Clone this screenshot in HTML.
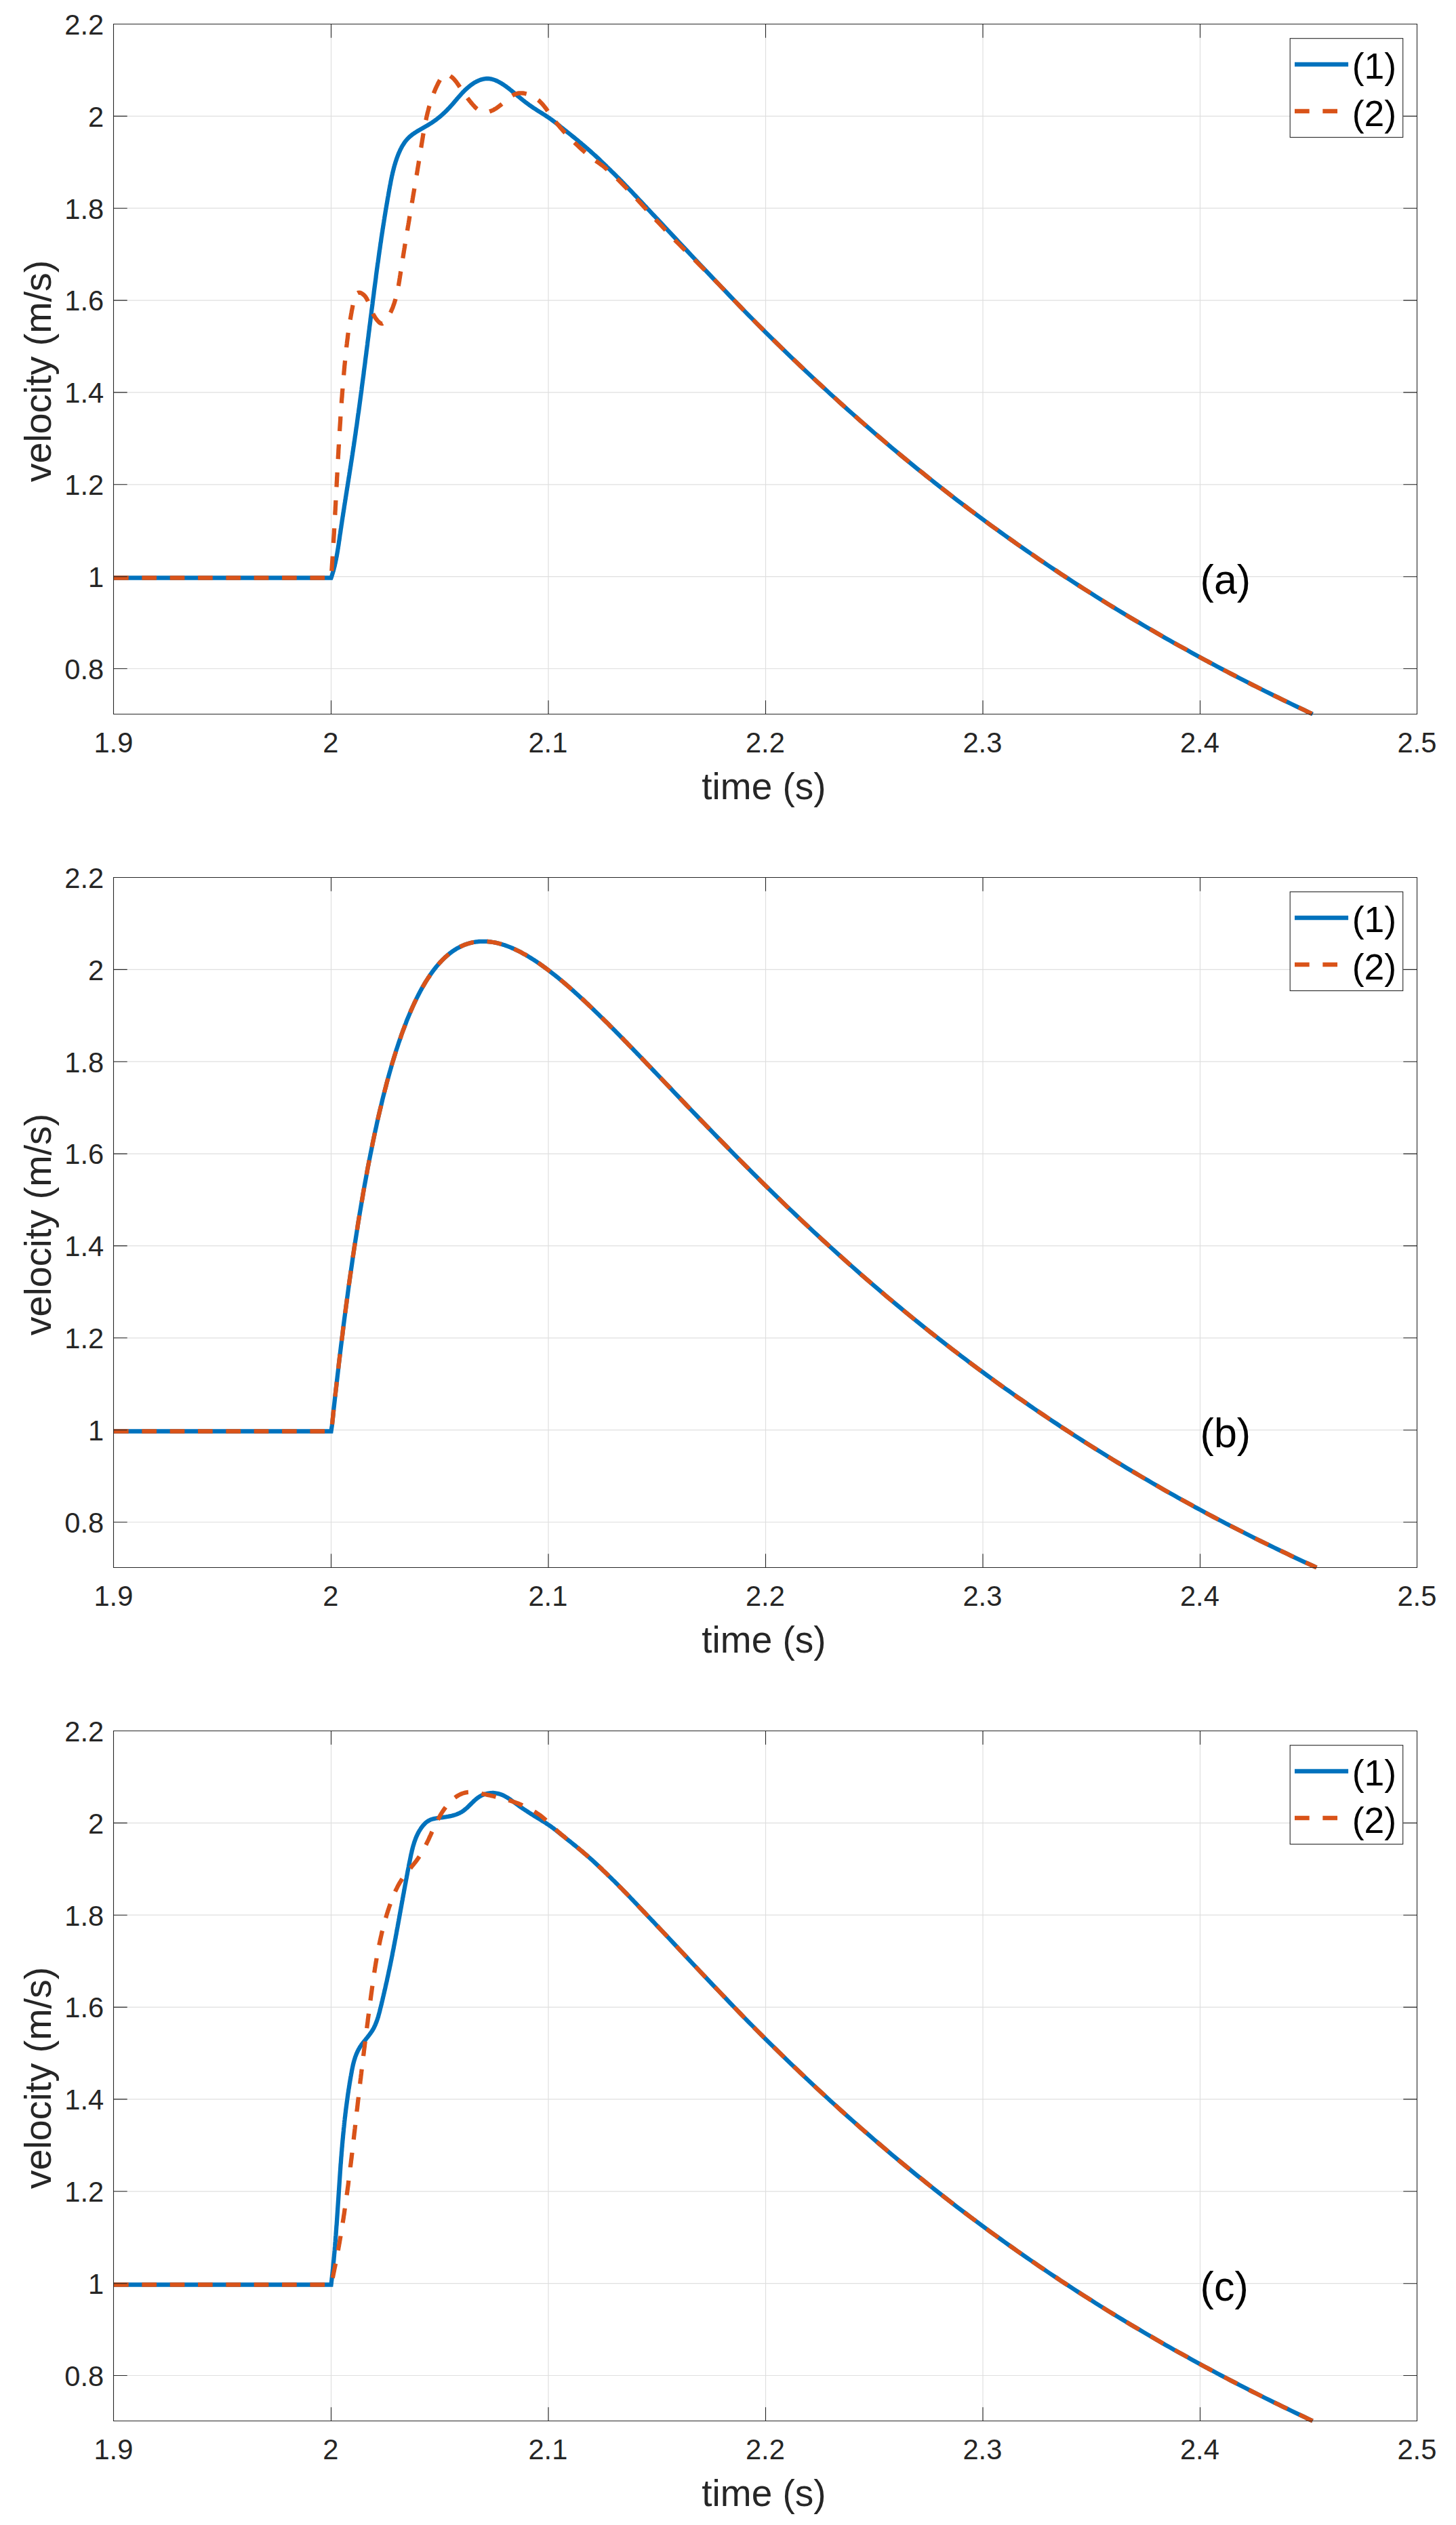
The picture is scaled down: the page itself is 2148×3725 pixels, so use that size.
<!DOCTYPE html>
<html><head><meta charset="utf-8"><title>velocity</title>
<style>html,body{margin:0;padding:0;background:#fff}svg{display:block}text{font-family:"Liberation Sans",sans-serif}</style>
</head><body>
<svg width="2148" height="3725" viewBox="0 0 2148 3725">
<rect width="2148" height="3725" fill="#fff"/>
<g>
<path d="M488.5 35.5V1053.5M809.0 35.5V1053.5M1129.5 35.5V1053.5M1450.0 35.5V1053.5M1770.5 35.5V1053.5M167.5 986.5H2090.5M167.5 850.7H2090.5M167.5 714.8H2090.5M167.5 578.9H2090.5M167.5 443.1H2090.5M167.5 307.2H2090.5M167.5 171.4H2090.5" stroke="#dfdfdf" stroke-width="1.2" fill="none"/>
<clipPath id="c0"><rect x="166.5" y="34.5" width="1925.0" height="1023.0"/></clipPath>
<g clip-path="url(#c0)" fill="none" stroke-width="6.3" stroke-linejoin="miter">
<path d="M168.0 852.5L488.5 852.5 489.0 851.1 489.5 849.7 489.9 848.2 490.4 846.8 490.8 845.4 491.2 843.9 491.7 842.5 492.1 841.0 492.5 839.6 492.8 838.1 493.2 836.7 493.6 835.2 493.9 833.8 494.2 832.3 494.6 830.8 494.9 829.4 495.2 827.9 495.5 826.4 495.8 825.0 496.1 823.5 496.4 822.0 496.7 820.6 496.9 819.1 497.2 817.6 497.5 816.1 497.7 814.6 498.0 813.2 498.2 811.7 498.4 810.2 498.7 808.7 498.9 807.2 499.1 805.8 499.4 804.3 499.6 802.8 499.8 801.3 500.0 799.8 500.2 798.3 500.5 796.9 500.7 795.4 500.9 793.9 501.1 792.4 501.3 790.9 501.5 789.4 501.7 788.0 502.0 786.5 502.2 785.0 502.4 783.5 502.6 782.0 502.8 780.5 503.1 779.0 503.3 777.6 503.5 776.1 503.7 774.6 504.0 773.1 504.2 771.6 504.4 770.1 504.6 768.7 504.8 767.2 505.1 765.7 505.3 764.2 505.5 762.7 505.8 761.2 506.0 759.8 506.2 758.3 506.4 756.8 506.7 755.3 506.9 753.8 507.1 752.4 507.4 750.9 507.6 749.4 507.8 747.9 508.0 746.4 508.3 744.9 508.5 743.5 508.7 742.0 509.0 740.5 509.2 739.0 509.4 737.5 509.7 736.1 509.9 734.6 510.1 733.1 510.4 731.6 510.6 730.1 510.8 728.6 511.1 727.2 511.3 725.7 511.5 724.2 511.8 722.7 512.0 721.2 512.2 719.8 512.5 718.3 512.7 716.8 512.9 715.3 513.2 713.8 513.4 712.3 513.6 710.9 513.9 709.4 514.1 707.9 514.3 706.4 514.6 704.9 514.8 703.5 515.0 702.0 515.3 700.5 515.5 699.0 515.7 697.5 516.0 696.0 516.2 694.6 516.4 693.1 516.7 691.6 516.9 690.1 517.1 688.6 517.4 687.2 517.6 685.7 517.8 684.2 518.0 682.7 518.3 681.2 518.5 679.7 518.7 678.3 519.0 676.8 519.2 675.3 519.4 673.8 519.6 672.3 519.9 670.8 520.1 669.4 520.3 667.9 520.5 666.4 520.8 664.9 521.0 663.4 521.2 661.9 521.4 660.5 521.6 659.0 521.9 657.5 522.1 656.0 522.3 654.5 522.5 653.0 522.7 651.6 523.0 650.1 523.2 648.6 523.4 647.1 523.6 645.6 523.8 644.1 524.0 642.7 524.3 641.2 524.5 639.7 524.7 638.2 524.9 636.7 525.1 635.2 525.3 633.7 525.5 632.3 525.7 630.8 526.0 629.3 526.2 627.8 526.4 626.3 526.6 624.8 526.8 623.3 527.0 621.9 527.2 620.4 527.4 618.9 527.6 617.4 527.8 615.9 528.0 614.4 528.2 612.9 528.4 611.5 528.6 610.0 528.9 608.5 529.1 607.0 529.3 605.5 529.5 604.0 529.7 602.5 529.9 601.1 530.1 599.6 530.3 598.1 530.5 596.6 530.7 595.1 530.9 593.6 531.1 592.1 531.3 590.7 531.5 589.2 531.7 587.7 531.9 586.2 532.1 584.7 532.3 583.2 532.5 581.7 532.7 580.2 532.9 578.8 533.1 577.3 533.3 575.8 533.5 574.3 533.6 572.8 533.8 571.3 534.0 569.8 534.2 568.3 534.4 566.9 534.6 565.4 534.8 563.9 535.0 562.4 535.2 560.9 535.4 559.4 535.6 557.9 535.8 556.4 536.0 555.0 536.2 553.5 536.4 552.0 536.6 550.5 536.7 549.0 536.9 547.5 537.1 546.0 537.3 544.5 537.5 543.1 537.7 541.6 537.9 540.1 538.1 538.6 538.3 537.1 538.5 535.6 538.7 534.1 538.8 532.6 539.0 531.2 539.2 529.7 539.4 528.2 539.6 526.7 539.8 525.2 540.0 523.7 540.2 522.2 540.4 520.7 540.5 519.3 540.7 517.8 540.9 516.3 541.1 514.8 541.3 513.3 541.5 511.8 541.7 510.3 541.9 508.8 542.1 507.3 542.2 505.9 542.4 504.4 542.6 502.9 542.8 501.4 543.0 499.9 543.2 498.4 543.4 496.9 543.6 495.4 543.7 494.0 543.9 492.5 544.1 491.0 544.3 489.5 544.5 488.0 544.7 486.5 544.9 485.0 545.0 483.5 545.2 482.0 545.4 480.6 545.6 479.1 545.8 477.6 546.0 476.1 546.2 474.6 546.4 473.1 546.5 471.6 546.7 470.1 546.9 468.7 547.1 467.2 547.3 465.7 547.5 464.2 547.7 462.7 547.9 461.2 548.0 459.7 548.2 458.2 548.4 456.7 548.6 455.3 548.8 453.8 549.0 452.3 549.2 450.8 549.4 449.3 549.6 447.8 549.7 446.3 549.9 444.8 550.1 443.4 550.3 441.9 550.5 440.4 550.7 438.9 550.9 437.4 551.1 435.9 551.3 434.4 551.5 432.9 551.6 431.5 551.8 430.0 552.0 428.5 552.2 427.0 552.4 425.5 552.6 424.0 552.8 422.5 553.0 421.0 553.2 419.6 553.4 418.1 553.6 416.6 553.8 415.1 554.0 413.6 554.2 412.1 554.4 410.6 554.6 409.1 554.7 407.7 554.9 406.2 555.1 404.7 555.3 403.2 555.5 401.7 555.7 400.2 555.9 398.7 556.1 397.2 556.3 395.8 556.5 394.3 556.7 392.8 556.9 391.3 557.1 389.8 557.3 388.3 557.6 386.8 557.8 385.4 558.0 383.9 558.2 382.4 558.4 380.9 558.6 379.4 558.8 377.9 559.0 376.4 559.2 375.0 559.4 373.5 559.6 372.0 559.8 370.5 560.0 369.0 560.3 367.5 560.5 366.0 560.7 364.6 560.9 363.1 561.1 361.6 561.3 360.1 561.5 358.6 561.8 357.1 562.0 355.7 562.2 354.2 562.4 352.7 562.6 351.2 562.8 349.7 563.1 348.2 563.3 346.7 563.5 345.3 563.7 343.8 564.0 342.3 564.2 340.8 564.4 339.3 564.6 337.9 564.9 336.4 565.1 334.9 565.3 333.4 565.6 331.9 565.8 330.4 566.0 329.0 566.3 327.5 566.5 326.0 566.7 324.5 567.0 323.0 567.2 321.6 567.4 320.1 567.7 318.6 567.9 317.1 568.2 315.6 568.4 314.1 568.6 312.7 568.9 311.2 569.1 309.7 569.4 308.2 569.6 306.7 569.9 305.3 570.1 303.8 570.4 302.3 570.6 300.8 570.9 299.4 571.1 297.9 571.4 296.4 571.6 294.9 571.9 293.4 572.1 292.0 572.4 290.5 572.7 289.0 572.9 287.5 573.2 286.1 573.4 284.6 573.7 283.1 574.0 281.6 574.2 280.1 574.5 278.7 574.8 277.2 575.0 275.7 575.3 274.2 575.6 272.8 575.9 271.3 576.2 269.8 576.4 268.3 576.7 266.9 577.0 265.4 577.3 263.9 577.6 262.5 577.9 261.0 578.2 259.5 578.6 258.1 578.9 256.6 579.2 255.1 579.6 253.7 579.9 252.2 580.3 250.8 580.7 249.3 581.0 247.9 581.4 246.4 581.8 245.0 582.2 243.5 582.7 242.1 583.1 240.6 583.5 239.2 584.0 237.8 584.5 236.4 584.9 234.9 585.4 233.5 585.9 232.1 586.5 230.7 587.0 229.3 587.5 227.9 588.1 226.5 588.7 225.1 589.3 223.8 589.9 222.4 590.5 221.0 591.2 219.7 591.9 218.4 592.6 217.0 593.3 215.7 594.1 214.4 594.9 213.2 595.7 211.9 596.5 210.7 597.4 209.4 598.3 208.2 599.3 207.1 600.2 205.9 601.2 204.8 602.3 203.7 603.4 202.7 604.5 201.7 605.6 200.7 606.8 199.8 607.9 198.8 609.1 197.9 610.4 197.1 611.6 196.2 612.9 195.4 614.1 194.6 615.4 193.8 616.7 193.0 618.0 192.2 619.3 191.5 620.6 190.7 621.9 190.0 623.2 189.3 624.5 188.5 625.8 187.8 627.1 187.0 628.4 186.3 629.7 185.6 631.0 184.8 632.3 184.0 633.6 183.2 634.8 182.4 636.1 181.6 637.3 180.8 638.6 180.0 639.8 179.1 641.0 178.3 642.2 177.4 643.5 176.5 644.6 175.6 645.8 174.6 647.0 173.7 648.2 172.8 649.3 171.8 650.5 170.8 651.6 169.8 652.7 168.9 653.8 167.8 654.9 166.8 656.0 165.8 657.1 164.8 658.2 163.7 659.2 162.7 660.3 161.6 661.3 160.5 662.4 159.4 663.4 158.3 664.4 157.2 665.4 156.1 666.4 155.0 667.4 153.9 668.4 152.7 669.4 151.6 670.3 150.5 671.3 149.3 672.3 148.2 673.3 147.0 674.2 145.9 675.2 144.8 676.2 143.6 677.2 142.5 678.2 141.4 679.2 140.2 680.2 139.1 681.2 138.0 682.2 136.9 683.2 135.8 684.3 134.8 685.3 133.7 686.4 132.6 687.5 131.6 688.6 130.6 689.7 129.6 690.9 128.6 692.0 127.7 693.2 126.7 694.4 125.8 695.6 124.9 696.8 124.1 698.1 123.2 699.3 122.4 700.6 121.6 701.9 120.9 703.2 120.2 704.6 119.6 706.0 118.9 707.3 118.4 708.8 117.8 710.2 117.4 711.6 117.0 713.1 116.6 714.6 116.4 716.0 116.2 717.5 116.0 719.0 116.0 720.5 116.0 722.0 116.2 723.5 116.4 725.0 116.7 726.4 117.0 727.9 117.4 729.3 117.9 730.7 118.4 732.1 119.0 733.5 119.6 734.8 120.3 736.2 121.0 737.5 121.7 738.8 122.4 740.1 123.2 741.3 124.0 742.6 124.8 743.8 125.7 745.0 126.5 746.3 127.4 747.5 128.3 748.7 129.2 749.9 130.1 751.1 131.0 752.2 131.9 753.4 132.9 754.6 133.8 755.7 134.8 756.9 135.7 758.1 136.7 759.2 137.6 760.4 138.6 761.5 139.6 762.7 140.5 763.8 141.5 765.0 142.4 766.1 143.4 767.3 144.4 768.4 145.3 769.6 146.3 770.8 147.2 771.9 148.1 773.1 149.1 774.3 150.0 775.5 150.9 776.7 151.8 777.9 152.7 779.1 153.6 780.3 154.5 781.5 155.4 782.7 156.2 784.0 157.1 785.2 157.9 786.5 158.8 787.7 159.6 789.0 160.4 790.2 161.2 791.5 162.0 792.7 162.9 793.0 163.0 794.3 163.8 795.5 164.6 796.8 165.4 798.1 166.2 799.4 167.0 800.7 167.8 801.9 168.6 803.2 169.4 804.5 170.3 805.8 171.1 807.1 172.0 808.4 172.8 809.6 173.7 810.9 174.6 812.2 175.5 813.5 176.4 814.8 177.4 816.1 178.3 817.3 179.3 818.6 180.3 819.9 181.3 821.2 182.3 822.5 183.3 823.7 184.3 825.0 185.3 826.3 186.4 827.6 187.4 828.9 188.4 830.2 189.4 831.4 190.5 833.0 191.7 834.6 193.0 836.2 194.3 837.8 195.6 839.4 196.8 841.1 198.1 842.7 199.4 844.3 200.7 845.9 202.0 847.5 203.3 849.1 204.6 850.7 205.9 852.3 207.2 853.9 208.6 855.5 209.9 857.1 211.2 858.7 212.6 860.3 213.9 861.9 215.3 863.5 216.6 865.1 218.0 866.7 219.4 868.3 220.8 869.9 222.2 871.5 223.6 873.1 225.1 874.7 226.5 876.3 228.0 877.9 229.4 879.5 230.9 881.1 232.4 882.7 233.9 884.3 235.4 885.9 236.9 887.5 238.5 889.1 240.0 890.7 241.5 892.3 243.1 893.9 244.6 895.5 246.2 897.1 247.7 898.7 249.3 900.3 250.8 901.9 252.4 903.5 254.0 905.2 255.6 906.8 257.2 908.4 258.8 910.0 260.4 911.6 262.0 913.2 263.6 914.8 265.2 916.4 266.8 918.0 268.5 919.6 270.1 921.2 271.7 922.8 273.4 924.4 275.1 926.0 276.7 927.6 278.4 929.2 280.1 930.8 281.7 932.4 283.4 934.0 285.1 935.6 286.8 937.2 288.5 938.8 290.2 940.4 291.9 942.0 293.6 943.6 295.3 945.2 297.0 946.8 298.7 948.4 300.4 950.0 302.1 951.6 303.8 953.2 305.5 954.8 307.3 956.4 309.0 958.0 310.7 959.6 312.4 961.2 314.1 962.8 315.8 964.4 317.5 966.0 319.2 967.6 320.9 969.2 322.6 969.3 322.6 975.7 329.5 982.1 336.3 988.5 343.2 994.9 350.0 1001.3 356.9 1007.7 363.7 1014.1 370.5 1020.5 377.3 1026.9 384.1 1033.3 390.9 1039.8 397.7 1046.2 404.5 1052.6 411.2 1059.0 417.9 1065.4 424.6 1071.8 431.3 1078.2 438.0 1084.6 444.6 1091.0 451.3 1097.4 457.9 1103.9 464.4 1110.3 470.9 1116.7 477.4 1123.1 483.8 1129.5 490.2 1135.9 496.5 1142.3 502.8 1148.7 509.1 1155.1 515.3 1161.5 521.5 1168.0 527.7 1174.4 533.8 1180.8 539.9 1187.2 546.0 1193.6 552.0 1200.0 558.0 1206.4 564.0 1212.8 569.9 1219.2 575.8 1225.6 581.7 1232.1 587.5 1238.5 593.3 1244.9 599.1 1251.3 604.8 1257.7 610.5 1264.1 616.2 1270.5 621.8 1276.9 627.4 1283.3 632.9 1289.7 638.5 1296.2 644.0 1302.6 649.4 1309.0 654.9 1315.4 660.3 1321.8 665.6 1328.2 671.0 1334.6 676.3 1341.0 681.5 1347.4 686.8 1353.8 692.0 1360.3 697.1 1366.7 702.3 1373.1 707.4 1379.5 712.5 1385.9 717.5 1392.3 722.5 1398.7 727.5 1405.1 732.4 1411.5 737.4 1417.9 742.3 1424.4 747.1 1430.8 751.9 1437.2 756.7 1443.6 761.5 1450.0 766.3 1456.4 771.0 1462.8 775.7 1469.2 780.3 1475.6 784.9 1482.0 789.5 1488.5 794.1 1494.9 798.6 1501.3 803.2 1507.7 807.6 1514.1 812.1 1520.5 816.5 1526.9 820.9 1533.3 825.3 1539.7 829.7 1546.1 834.0 1552.6 838.3 1559.0 842.5 1565.4 846.8 1571.8 851.0 1578.2 855.2 1584.6 859.3 1591.0 863.5 1597.4 867.6 1603.8 871.7 1610.2 875.7 1616.7 879.8 1623.1 883.8 1629.5 887.8 1635.9 891.8 1642.3 895.7 1648.7 899.6 1655.1 903.5 1661.5 907.4 1667.9 911.2 1674.3 915.0 1680.8 918.8 1687.2 922.6 1693.6 926.4 1700.0 930.1 1706.4 933.8 1712.8 937.5 1719.2 941.2 1725.6 944.8 1732.0 948.4 1738.4 952.0 1744.9 955.6 1751.3 959.1 1757.7 962.7 1764.1 966.2 1770.5 969.7 1776.9 973.2 1783.3 976.6 1789.7 980.1 1796.1 983.5 1802.5 986.9 1809.0 990.2 1815.4 993.6 1821.8 996.9 1828.2 1000.2 1834.6 1003.5 1841.0 1006.8 1847.4 1010.1 1853.8 1013.3 1860.2 1016.5 1866.6 1019.7 1873.1 1022.9 1879.5 1026.1 1885.9 1029.2 1892.3 1032.3 1898.7 1035.4 1905.1 1038.5 1911.5 1041.6 1917.9 1044.7 1924.3 1047.7 1930.7 1050.8 1936.6 1053.5" stroke="#0072bd"/>
<path d="M168.0 852.5L488.5 852.5 488.6 851.0 488.7 849.5 488.8 848.0 488.9 846.5 489.0 845.0 489.1 843.5 489.3 842.0 489.4 840.5 489.5 839.0 489.6 837.5 489.7 836.0 489.8 834.5 489.9 833.0 490.0 831.5 490.1 830.0 490.2 828.6 490.3 827.1 490.4 825.6 490.5 824.1 490.6 822.6 490.7 821.1 490.8 819.6 490.9 818.1 491.0 816.6 491.1 815.1 491.1 813.6 491.2 812.1 491.3 810.6 491.4 809.1 491.5 807.6 491.6 806.1 491.7 804.6 491.8 803.1 491.9 801.6 492.0 800.1 492.1 798.6 492.2 797.1 492.2 795.6 492.3 794.1 492.4 792.6 492.5 791.1 492.6 789.6 492.7 788.1 492.8 786.6 492.9 785.1 492.9 783.6 493.0 782.1 493.1 780.6 493.2 779.1 493.3 777.6 493.4 776.2 493.5 774.7 493.5 773.2 493.6 771.7 493.7 770.2 493.8 768.7 493.9 767.2 494.0 765.7 494.0 764.2 494.1 762.7 494.2 761.2 494.3 759.7 494.4 758.2 494.4 756.7 494.5 755.2 494.6 753.7 494.7 752.2 494.8 750.7 494.8 749.2 494.9 747.7 495.0 746.2 495.1 744.7 495.2 743.2 495.2 741.7 495.3 740.2 495.4 738.7 495.5 737.2 495.6 735.7 495.6 734.2 495.7 732.7 495.8 731.2 495.9 729.7 496.0 728.2 496.0 726.7 496.1 725.2 496.2 723.7 496.3 722.2 496.4 720.7 496.4 719.2 496.5 717.7 496.6 716.2 496.7 714.7 496.7 713.2 496.8 711.7 496.9 710.2 497.0 708.7 497.1 707.2 497.1 705.8 497.2 704.3 497.3 702.8 497.4 701.3 497.5 699.8 497.5 698.3 497.6 696.8 497.7 695.3 497.8 693.8 497.9 692.3 497.9 690.8 498.0 689.3 498.1 687.8 498.2 686.3 498.3 684.8 498.3 683.3 498.4 681.8 498.5 680.3 498.6 678.8 498.7 677.3 498.8 675.8 498.8 674.3 498.9 672.8 499.0 671.3 499.1 669.8 499.2 668.3 499.3 666.8 499.3 665.3 499.4 663.8 499.5 662.3 499.6 660.8 499.7 659.3 499.8 657.8 499.9 656.3 499.9 654.8 500.0 653.3 500.1 651.8 500.2 650.3 500.3 648.8 500.4 647.3 500.5 645.8 500.6 644.3 500.7 642.8 500.7 641.4 500.8 639.9 500.9 638.4 501.0 636.9 501.1 635.4 501.2 633.9 501.3 632.4 501.4 630.9 501.5 629.4 501.6 627.9 501.7 626.4 501.8 624.9 501.9 623.4 502.0 621.9 502.1 620.4 502.2 618.9 502.2 617.4 502.3 615.9 502.4 614.4 502.5 612.9 502.6 611.4 502.7 609.9 502.9 608.4 503.0 606.9 503.1 605.4 503.2 603.9 503.3 602.4 503.4 600.9 503.5 599.4 503.6 597.9 503.7 596.4 503.8 595.0 503.9 593.5 504.0 592.0 504.1 590.5 504.2 589.0 504.3 587.5 504.5 586.0 504.6 584.5 504.7 583.0 504.8 581.5 504.9 580.0 505.0 578.5 505.1 577.0 505.3 575.5 505.4 574.0 505.5 572.5 505.6 571.0 505.7 569.5 505.9 568.0 506.0 566.5 506.1 565.0 506.2 563.5 506.4 562.1 506.5 560.6 506.6 559.1 506.7 557.6 506.9 556.1 507.0 554.6 507.1 553.1 507.3 551.6 507.4 550.1 507.5 548.6 507.7 547.1 507.8 545.6 507.9 544.1 508.1 542.6 508.2 541.1 508.3 539.6 508.5 538.1 508.6 536.7 508.8 535.2 508.9 533.7 509.1 532.2 509.2 530.7 509.4 529.2 509.5 527.7 509.7 526.2 509.8 524.7 510.0 523.2 510.1 521.7 510.3 520.2 510.4 518.7 510.6 517.3 510.7 515.8 510.9 514.3 511.1 512.8 511.2 511.3 511.4 509.8 511.6 508.3 511.8 506.8 511.9 505.3 512.1 503.8 512.3 502.3 512.5 500.9 512.7 499.4 512.9 497.9 513.0 496.4 513.2 494.9 513.4 493.4 513.6 491.9 513.8 490.4 514.0 489.0 514.3 487.5 514.5 486.0 514.7 484.5 514.9 483.0 515.1 481.5 515.3 480.1 515.6 478.6 515.8 477.1 516.0 475.6 516.3 474.1 516.5 472.7 516.8 471.2 517.0 469.7 517.3 468.2 517.5 466.7 517.8 465.3 518.0 463.8 518.3 462.3 518.6 460.8 518.8 459.4 519.1 457.9 519.4 456.4 519.7 454.9 520.0 453.5 520.2 452.0 520.5 450.5 520.8 449.0 521.1 447.6 521.4 446.1 521.8 444.6 522.1 443.2 522.5 441.7 522.9 440.3 523.3 438.9 523.8 437.4 524.4 436.1 525.2 434.7 526.0 433.5 527.1 432.5 528.4 431.8 529.9 431.6 531.4 431.9 532.8 432.4 534.1 433.1 535.3 434.0 536.5 435.0 537.6 436.0 538.6 437.1 539.5 438.3 540.3 439.6 541.1 440.8 541.8 442.2 542.5 443.5 543.1 444.9 543.7 446.3 544.2 447.7 544.7 449.1 545.3 450.5 545.8 451.9 546.3 453.3 546.8 454.7 547.4 456.1 547.9 457.5 548.5 458.9 549.1 460.2 549.7 461.6 550.4 463.0 551.0 464.3 551.8 465.6 552.5 466.9 553.3 468.2 554.1 469.4 555.0 470.6 555.9 471.8 556.9 473.0 557.9 474.1 559.0 475.1 560.1 476.1 561.4 476.9 562.8 477.4 564.3 477.3 565.6 476.6 566.8 475.7 567.8 474.6 568.7 473.4 569.6 472.2 570.4 471.0 571.3 469.7 572.1 468.4 572.8 467.1 573.6 465.9 574.3 464.5 575.0 463.2 575.7 461.9 576.4 460.5 577.0 459.2 577.6 457.8 578.2 456.4 578.8 455.0 579.4 453.7 579.9 452.3 580.4 450.8 580.9 449.4 581.4 448.0 581.9 446.6 582.3 445.2 582.7 443.7 583.2 442.3 583.6 440.8 584.0 439.4 584.3 437.9 584.7 436.5 585.1 435.0 585.4 433.6 585.7 432.1 586.1 430.6 586.4 429.2 586.7 427.7 587.0 426.2 587.2 424.8 587.5 423.3 587.8 421.8 588.1 420.3 588.3 418.9 588.6 417.4 588.8 415.9 589.1 414.4 589.3 412.9 589.5 411.5 589.8 410.0 590.0 408.5 590.2 407.0 590.5 405.5 590.7 404.0 590.9 402.6 591.1 401.1 591.4 399.6 591.6 398.1 591.8 396.6 592.1 395.1 592.3 393.7 592.5 392.2 592.7 390.7 593.0 389.2 593.2 387.7 593.4 386.3 593.7 384.8 593.9 383.3 594.1 381.8 594.4 380.3 594.6 378.8 594.9 377.4 595.1 375.9 595.3 374.4 595.6 372.9 595.8 371.4 596.0 370.0 596.3 368.5 596.5 367.0 596.8 365.5 597.0 364.0 597.2 362.6 597.5 361.1 597.7 359.6 598.0 358.1 598.2 356.6 598.4 355.2 598.7 353.7 598.9 352.2 599.2 350.7 599.4 349.2 599.7 347.8 599.9 346.3 600.2 344.8 600.4 343.3 600.6 341.8 600.9 340.4 601.1 338.9 601.4 337.4 601.6 335.9 601.9 334.4 602.1 333.0 602.4 331.5 602.6 330.0 602.9 328.5 603.1 327.0 603.4 325.6 603.6 324.1 603.8 322.6 604.1 321.1 604.3 319.6 604.6 318.2 604.8 316.7 605.1 315.2 605.3 313.7 605.6 312.2 605.8 310.8 606.1 309.3 606.3 307.8 606.6 306.3 606.8 304.8 607.1 303.4 607.3 301.9 607.6 300.4 607.8 298.9 608.1 297.5 608.3 296.0 608.6 294.5 608.8 293.0 609.1 291.5 609.3 290.1 609.6 288.6 609.8 287.1 610.1 285.6 610.3 284.1 610.6 282.7 610.8 281.2 611.1 279.7 611.3 278.2 611.6 276.7 611.8 275.3 612.1 273.8 612.3 272.3 612.6 270.8 612.8 269.3 613.0 267.9 613.3 266.4 613.5 264.9 613.8 263.4 614.0 261.9 614.3 260.5 614.5 259.0 614.8 257.5 615.0 256.0 615.3 254.6 615.5 253.1 615.8 251.6 616.0 250.1 616.2 248.6 616.5 247.2 616.7 245.7 617.0 244.2 617.2 242.7 617.5 241.2 617.7 239.7 617.9 238.3 618.2 236.8 618.4 235.3 618.7 233.8 618.9 232.3 619.1 230.9 619.4 229.4 619.6 227.9 619.9 226.4 620.1 224.9 620.3 223.5 620.6 222.0 620.8 220.5 621.0 219.0 621.3 217.5 621.5 216.1 621.7 214.6 622.0 213.1 622.2 211.6 622.5 210.1 622.7 208.6 622.9 207.2 623.2 205.7 623.4 204.2 623.7 202.7 623.9 201.2 624.1 199.8 624.4 198.3 624.6 196.8 624.9 195.3 625.2 193.9 625.4 192.4 625.7 190.9 626.0 189.4 626.2 187.9 626.5 186.5 626.8 185.0 627.1 183.5 627.4 182.1 627.7 180.6 628.0 179.1 628.3 177.6 628.6 176.2 628.9 174.7 629.2 173.2 629.5 171.8 629.9 170.3 630.2 168.9 630.6 167.4 630.9 165.9 631.3 164.5 631.7 163.0 632.1 161.6 632.4 160.1 632.8 158.7 633.2 157.3 633.7 155.8 634.1 154.4 634.5 152.9 635.0 151.5 635.4 150.1 635.9 148.6 636.3 147.2 636.8 145.8 637.3 144.4 637.8 143.0 638.3 141.6 638.8 140.2 639.4 138.7 639.9 137.4 640.5 136.0 641.0 134.6 641.6 133.2 642.2 131.8 642.8 130.4 643.4 129.1 644.1 127.7 644.7 126.3 645.4 125.0 646.0 123.7 646.7 122.3 647.4 121.0 648.1 119.7 648.8 118.3 649.5 117.0 650.3 115.7 651.1 114.5 652.0 113.2 652.9 112.1 654.0 111.1 655.3 110.3 656.7 109.8 658.2 109.7 659.7 110.0 661.1 110.5 662.5 111.1 663.8 111.8 665.0 112.7 666.2 113.6 667.4 114.5 668.5 115.6 669.5 116.6 670.6 117.7 671.5 118.9 672.5 120.0 673.4 121.2 674.3 122.4 675.1 123.7 676.0 124.9 676.8 126.1 677.7 127.4 678.5 128.6 679.3 129.9 680.2 131.1 681.0 132.4 681.8 133.6 682.7 134.9 683.5 136.1 684.4 137.3 685.2 138.6 686.1 139.8 687.0 141.0 687.9 142.2 688.7 143.4 689.6 144.6 690.5 145.8 691.5 147.0 692.4 148.2 693.3 149.4 694.3 150.5 695.2 151.7 696.2 152.8 697.2 154.0 698.2 155.1 699.2 156.2 700.2 157.3 701.2 158.4 702.3 159.4 703.4 160.4 704.6 161.4 705.8 162.2 707.1 163.1 708.4 163.8 709.7 164.5 711.1 165.0 712.6 165.3 714.1 165.5 715.6 165.6 717.1 165.6 718.6 165.4 720.0 165.1 721.5 164.8 722.9 164.3 724.3 163.8 725.7 163.2 727.1 162.6 728.4 161.9 729.7 161.1 731.0 160.4 732.3 159.6 733.5 158.7 734.7 157.9 735.9 157.0 737.1 156.1 738.3 155.2 739.5 154.2 740.6 153.3 741.8 152.3 742.9 151.3 744.1 150.3 745.2 149.3 746.3 148.4 747.5 147.4 748.6 146.4 749.8 145.4 750.9 144.5 752.1 143.6 753.3 142.7 754.6 141.9 755.8 141.1 757.1 140.3 758.5 139.6 759.8 139.0 761.2 138.5 762.7 138.1 764.1 137.7 765.6 137.5 767.1 137.4 768.6 137.3 770.1 137.4 771.6 137.5 773.1 137.7 774.6 138.0 776.0 138.3 777.5 138.7 778.9 139.1 780.3 139.6 781.8 140.1 783.1 140.7 784.5 141.3 785.8 142.0 787.2 142.7 788.4 143.5 789.7 144.3 790.9 145.1 792.1 146.0 793.3 147.0 794.5 147.9 795.6 148.9 796.7 150.0 797.7 151.0 798.8 152.1 799.8 153.2 800.8 154.3 801.8 155.5 802.7 156.6 803.6 157.8 804.6 159.0 805.5 160.2 806.4 161.4 807.2 162.6 808.1 163.8 809.0 165.1 809.8 166.3 810.7 167.5 811.6 168.7 812.4 170.0 813.3 171.2 814.2 172.4 815.1 173.6 816.0 174.8 816.9 176.0 817.8 177.2 818.7 178.4 819.6 179.6 820.5 180.8 821.5 181.9 822.4 183.1 823.4 184.3 824.3 185.4 825.3 186.6 826.2 187.7 827.2 188.9 828.2 190.0 829.2 191.1 830.2 192.2 831.2 193.4 832.2 194.5 833.2 195.6 834.2 196.7 835.2 197.8 836.3 198.9 837.3 200.0 838.3 201.1 839.4 202.1 840.4 203.2 841.5 204.3 842.5 205.3 843.6 206.4 844.6 207.5 845.7 208.5 846.8 209.6 847.9 210.6 848.9 211.7 850.0 212.7 851.1 213.7 852.2 214.7 853.3 215.8 854.4 216.8 855.5 217.8 856.6 218.8 857.7 219.8 858.8 220.8 859.9 221.8 861.1 222.8 862.2 223.8 863.3 224.8 864.4 225.8 865.6 226.8 866.7 227.8 868.0 228.9 869.3 230.0 870.5 231.0 871.8 232.0 873.1 233.1 874.4 234.0 875.7 235.0 876.9 235.9 878.2 236.8 879.5 237.7 880.8 238.6 882.1 239.5 883.4 240.4 884.6 241.3 885.9 242.2 887.2 243.2 888.5 244.1 889.8 245.1 891.0 246.1 892.3 247.1 892.3 247.1 893.9 248.6 895.5 250.0 897.1 251.5 898.7 252.9 900.3 254.4 901.9 255.8 903.5 257.3 905.2 258.7 906.8 260.2 908.4 261.7 910.0 263.2 911.6 264.7 913.2 266.3 914.8 267.9 916.4 269.5 918.0 271.2 919.6 272.8 921.2 274.5 922.8 276.1 924.4 277.8 926.0 279.4 927.6 281.1 929.2 282.8 930.8 284.5 932.4 286.1 934.0 287.8 935.6 289.5 937.2 291.2 938.8 293.0 940.4 294.7 942.0 296.4 943.6 298.2 945.2 299.9 946.8 301.6 948.4 303.4 950.0 305.1 951.6 306.9 953.2 308.6 954.8 310.3 956.4 312.1 958.0 313.8 959.6 315.6 961.2 317.3 962.8 319.0 964.4 320.8 966.0 322.5 967.6 324.3 969.2 326.0 969.3 326.0 975.7 332.9 982.1 339.7 988.5 346.6 994.9 353.4 1001.3 359.9 1007.7 366.3 1014.1 372.7 1020.5 379.1 1026.9 385.5 1033.3 392.0 1039.8 398.5 1046.2 405.0 1052.6 411.5 1059.0 417.9 1065.4 424.6 1071.8 431.3 1078.2 438.0 1084.6 444.6 1091.0 451.3 1097.4 457.9 1103.9 464.4 1110.3 470.9 1116.7 477.4 1123.1 483.8 1129.5 490.2 1135.9 496.5 1142.3 502.8 1148.7 509.1 1155.1 515.3 1161.5 521.5 1168.0 527.7 1174.4 533.8 1180.8 539.9 1187.2 546.0 1193.6 552.0 1200.0 558.0 1206.4 564.0 1212.8 569.9 1219.2 575.8 1225.6 581.7 1232.1 587.5 1238.5 593.3 1244.9 599.1 1251.3 604.8 1257.7 610.5 1264.1 616.2 1270.5 621.8 1276.9 627.4 1283.3 632.9 1289.7 638.5 1296.2 644.0 1302.6 649.4 1309.0 654.9 1315.4 660.3 1321.8 665.6 1328.2 671.0 1334.6 676.3 1341.0 681.5 1347.4 686.8 1353.8 692.0 1360.3 697.1 1366.7 702.3 1373.1 707.4 1379.5 712.5 1385.9 717.5 1392.3 722.5 1398.7 727.5 1405.1 732.4 1411.5 737.4 1417.9 742.3 1424.4 747.1 1430.8 751.9 1437.2 756.7 1443.6 761.5 1450.0 766.3 1456.4 771.0 1462.8 775.7 1469.2 780.3 1475.6 784.9 1482.0 789.5 1488.5 794.1 1494.9 798.6 1501.3 803.2 1507.7 807.6 1514.1 812.1 1520.5 816.5 1526.9 820.9 1533.3 825.3 1539.7 829.7 1546.1 834.0 1552.6 838.3 1559.0 842.5 1565.4 846.8 1571.8 851.0 1578.2 855.2 1584.6 859.3 1591.0 863.5 1597.4 867.6 1603.8 871.7 1610.2 875.7 1616.7 879.8 1623.1 883.8 1629.5 887.8 1635.9 891.8 1642.3 895.7 1648.7 899.6 1655.1 903.5 1661.5 907.4 1667.9 911.2 1674.3 915.0 1680.8 918.8 1687.2 922.6 1693.6 926.4 1700.0 930.1 1706.4 933.8 1712.8 937.5 1719.2 941.2 1725.6 944.8 1732.0 948.4 1738.4 952.0 1744.9 955.6 1751.3 959.1 1757.7 962.7 1764.1 966.2 1770.5 969.7 1776.9 973.2 1783.3 976.6 1789.7 980.1 1796.1 983.5 1802.5 986.9 1809.0 990.2 1815.4 993.6 1821.8 996.9 1828.2 1000.2 1834.6 1003.5 1841.0 1006.8 1847.4 1010.1 1853.8 1013.3 1860.2 1016.5 1866.6 1019.7 1873.1 1022.9 1879.5 1026.1 1885.9 1029.2 1892.3 1032.3 1898.7 1035.4 1905.1 1038.5 1911.5 1041.6 1917.9 1044.7 1924.3 1047.7 1930.7 1050.8 1936.6 1053.5" stroke="#d95319" stroke-dasharray="21.7 19.64"/>
</g>
<path d="M167.5 35.5H2090.5V1053.5H167.5ZM488.5 1053.5v-20.2M488.5 35.5v20.2M809.0 1053.5v-20.2M809.0 35.5v20.2M1129.5 1053.5v-20.2M1129.5 35.5v20.2M1450.0 1053.5v-20.2M1450.0 35.5v20.2M1770.5 1053.5v-20.2M1770.5 35.5v20.2M167.5 986.5h20.2M2090.5 986.5h-20.2M167.5 850.7h20.2M2090.5 850.7h-20.2M167.5 714.8h20.2M2090.5 714.8h-20.2M167.5 578.9h20.2M2090.5 578.9h-20.2M167.5 443.1h20.2M2090.5 443.1h-20.2M167.5 307.2h20.2M2090.5 307.2h-20.2M167.5 171.4h20.2M2090.5 171.4h-20.2" stroke="#262626" stroke-width="1.1" fill="none"/>
<g font-size="41.7" fill="#262626">
<text x="167.4" y="1109.9" text-anchor="middle">1.9</text>
<text x="487.9" y="1109.9" text-anchor="middle">2</text>
<text x="808.4" y="1109.9" text-anchor="middle">2.1</text>
<text x="1128.9" y="1109.9" text-anchor="middle">2.2</text>
<text x="1449.4" y="1109.9" text-anchor="middle">2.3</text>
<text x="1769.9" y="1109.9" text-anchor="middle">2.4</text>
<text x="2090.4" y="1109.9" text-anchor="middle">2.5</text>
<text x="153.2" y="1001.8" text-anchor="end">0.8</text>
<text x="153.2" y="866.0" text-anchor="end">1</text>
<text x="153.2" y="730.1" text-anchor="end">1.2</text>
<text x="153.2" y="594.2" text-anchor="end">1.4</text>
<text x="153.2" y="458.4" text-anchor="end">1.6</text>
<text x="153.2" y="322.5" text-anchor="end">1.8</text>
<text x="153.2" y="186.7" text-anchor="end">2</text>
<text x="153.2" y="50.8" text-anchor="end">2.2</text>
</g>
<text x="1127.0" y="1179.1" font-size="55" fill="#262626" text-anchor="middle">time (s)</text>
<text transform="translate(74.8 547.5) rotate(-90)" font-size="55.6" fill="#262626" text-anchor="middle">velocity (m/s)</text>
<text x="1770.6" y="875.7" font-size="61" fill="#000">(a)</text>
<rect x="1903.2" y="56.7" width="166.5" height="145.9" fill="#fff" stroke="#262626" stroke-width="1.1"/>
<path d="M1910 95.0H1989.1" stroke="#0072bd" stroke-width="6.3"/>
<path d="M1910 164.0H1989.1" stroke="#d95319" stroke-width="6.3" stroke-dasharray="21.7 19.64"/>
<text x="1994.8" y="116.0" font-size="53.5" fill="#000">(1)</text>
<text x="1994.8" y="185.7" font-size="53.5" fill="#000">(2)</text>
</g>
<g>
<path d="M488.5 1294.5V2312.5M809.0 1294.5V2312.5M1129.5 1294.5V2312.5M1450.0 1294.5V2312.5M1770.5 1294.5V2312.5M167.5 2245.5H2090.5M167.5 2109.7H2090.5M167.5 1973.8H2090.5M167.5 1837.9H2090.5M167.5 1702.1H2090.5M167.5 1566.2H2090.5M167.5 1430.4H2090.5" stroke="#dfdfdf" stroke-width="1.2" fill="none"/>
<clipPath id="c1"><rect x="166.5" y="1293.5" width="1925.0" height="1023.0"/></clipPath>
<g clip-path="url(#c1)" fill="none" stroke-width="6.3" stroke-linejoin="miter">
<path d="M168.0 2111.5L488.5 2111.5 489.8 2102.9 491.1 2090.8 492.3 2079.0 493.6 2067.3 494.9 2055.7 496.2 2044.3 497.5 2033.1 498.8 2022.0 500.0 2011.1 501.3 2000.3 502.6 1989.7 503.9 1979.2 505.2 1968.8 506.4 1958.6 507.7 1948.5 509.0 1938.6 510.3 1928.8 511.6 1919.2 512.9 1909.6 514.1 1900.3 515.4 1891.0 516.7 1881.9 518.0 1872.9 519.3 1864.0 520.5 1855.2 521.8 1846.6 523.1 1838.1 524.4 1829.7 525.7 1821.5 527.0 1813.3 528.2 1805.3 529.5 1797.4 530.8 1789.6 532.1 1781.9 533.4 1774.3 534.7 1766.9 535.9 1759.5 537.2 1752.3 538.5 1745.1 539.8 1738.1 541.1 1731.2 542.3 1724.3 543.6 1717.6 544.9 1711.0 546.2 1704.4 547.5 1698.0 548.8 1691.7 550.0 1685.4 551.3 1679.3 552.6 1673.2 553.9 1667.3 555.2 1661.4 556.4 1655.6 557.7 1649.9 559.0 1644.3 560.3 1638.8 561.6 1633.4 562.9 1628.1 564.1 1622.8 565.4 1617.6 566.7 1612.5 568.0 1607.5 569.3 1602.6 570.5 1597.7 571.8 1593.0 573.1 1588.3 574.4 1583.6 575.7 1579.1 577.0 1574.6 578.2 1570.2 579.5 1565.9 580.8 1561.7 582.1 1557.5 583.4 1553.4 584.6 1549.3 585.9 1545.4 587.2 1541.5 588.5 1537.6 589.8 1533.9 591.1 1530.2 592.3 1526.5 593.6 1523.0 594.9 1519.4 596.2 1516.0 597.5 1512.6 598.8 1509.3 600.0 1506.0 601.3 1502.8 602.6 1499.7 603.9 1496.6 605.2 1493.6 606.4 1490.6 607.7 1487.7 609.0 1484.8 610.3 1482.0 611.6 1479.2 612.9 1476.5 614.1 1473.9 615.4 1471.3 616.7 1468.8 618.0 1466.3 619.3 1463.8 620.5 1461.4 621.8 1459.1 623.1 1456.8 624.4 1454.6 625.7 1452.4 627.0 1450.2 628.2 1448.1 629.5 1446.1 630.8 1444.1 632.1 1442.1 633.4 1440.2 634.6 1438.3 635.9 1436.5 637.2 1434.7 638.5 1432.9 639.8 1431.2 641.1 1429.5 642.3 1427.9 643.6 1426.3 644.9 1424.8 646.2 1423.3 647.5 1421.8 648.7 1420.4 650.0 1419.0 651.3 1417.6 652.6 1416.3 653.9 1415.0 655.2 1413.8 656.4 1412.6 657.7 1411.4 659.0 1410.3 660.3 1409.2 661.6 1408.1 662.9 1407.0 664.1 1406.0 665.4 1405.1 666.7 1404.1 668.0 1403.2 669.3 1402.3 670.5 1401.5 671.8 1400.7 673.1 1399.9 674.4 1399.1 675.7 1398.4 677.0 1397.7 678.2 1397.1 679.5 1396.4 680.8 1395.8 682.1 1395.2 683.4 1394.7 684.6 1394.1 685.9 1393.6 687.2 1393.2 688.5 1392.7 689.8 1392.3 691.1 1391.9 692.3 1391.5 693.6 1391.2 694.9 1390.9 696.2 1390.6 697.5 1390.3 698.7 1390.0 700.0 1389.8 701.3 1389.6 702.6 1389.4 703.9 1389.3 705.2 1389.1 706.4 1389.0 707.7 1388.9 709.0 1388.8 710.3 1388.8 711.6 1388.8 712.8 1388.8 714.1 1388.8 715.4 1388.8 716.7 1388.9 718.0 1388.9 719.3 1389.0 720.5 1389.1 721.8 1389.3 723.1 1389.4 724.4 1389.6 725.7 1389.8 727.0 1390.0 728.2 1390.2 729.5 1390.4 730.8 1390.7 732.1 1390.9 733.4 1391.2 734.6 1391.5 735.9 1391.8 737.2 1392.2 738.5 1392.5 739.8 1392.9 741.1 1393.3 742.3 1393.7 743.6 1394.1 744.9 1394.5 746.2 1395.0 747.5 1395.4 748.7 1395.9 750.0 1396.4 751.3 1396.9 752.6 1397.4 753.9 1397.9 755.2 1398.5 756.4 1399.0 757.7 1399.6 759.0 1400.2 760.3 1400.8 761.6 1401.4 762.8 1402.0 764.1 1402.6 765.4 1403.3 766.7 1403.9 768.0 1404.6 769.3 1405.3 770.5 1406.0 771.8 1406.7 773.1 1407.4 774.4 1408.1 775.7 1408.8 776.9 1409.6 778.2 1410.3 779.5 1411.1 780.8 1411.9 782.1 1412.7 783.4 1413.5 784.6 1414.3 785.9 1415.1 787.2 1415.9 788.5 1416.7 789.8 1417.6 791.1 1418.4 792.3 1419.3 793.6 1420.2 794.9 1421.0 796.2 1421.9 797.5 1422.8 798.7 1423.7 800.0 1424.6 801.3 1425.6 802.6 1426.5 803.9 1427.4 805.2 1428.4 806.4 1429.3 807.7 1430.3 809.0 1431.2 810.3 1432.2 811.6 1433.2 812.8 1434.2 814.1 1435.2 815.4 1436.2 816.7 1437.2 818.0 1438.2 819.3 1439.2 820.5 1440.3 821.8 1441.3 823.1 1442.3 824.4 1443.4 825.7 1444.4 826.9 1445.5 828.2 1446.6 829.5 1447.6 830.8 1448.7 832.1 1449.8 833.4 1450.9 834.6 1452.0 835.9 1453.1 837.2 1454.2 838.5 1455.3 839.8 1456.4 841.0 1457.5 842.3 1458.7 843.6 1459.8 844.9 1460.9 846.2 1462.1 847.5 1463.2 848.7 1464.4 850.0 1465.5 851.3 1466.7 852.6 1467.9 853.9 1469.0 855.2 1470.2 856.4 1471.4 857.7 1472.6 859.0 1473.7 860.3 1474.9 861.6 1476.1 862.8 1477.3 864.1 1478.5 865.4 1479.7 866.7 1480.9 868.0 1482.1 869.3 1483.4 870.5 1484.6 871.8 1485.8 873.1 1487.0 874.4 1488.2 875.7 1489.5 876.9 1490.7 878.2 1491.9 879.5 1493.2 880.8 1494.4 882.1 1495.7 883.4 1496.9 884.6 1498.2 885.9 1499.4 887.2 1500.7 888.5 1501.9 889.8 1503.2 891.0 1504.5 892.3 1505.7 893.6 1507.0 894.9 1508.3 896.2 1509.6 897.5 1510.8 898.7 1512.1 900.0 1513.4 901.3 1514.7 902.6 1516.0 903.9 1517.2 905.1 1518.5 906.4 1519.8 907.7 1521.1 909.0 1522.4 910.3 1523.7 911.6 1525.0 912.8 1526.3 914.1 1527.6 915.4 1528.9 916.7 1530.2 918.0 1531.5 919.3 1532.8 920.5 1534.1 921.8 1535.5 923.1 1536.8 924.4 1538.1 925.7 1539.4 926.9 1540.7 928.2 1542.0 929.5 1543.4 930.8 1544.7 932.1 1546.0 933.4 1547.3 934.6 1548.6 935.9 1550.0 937.2 1551.3 938.5 1552.6 939.8 1554.0 941.0 1555.3 942.3 1556.6 943.6 1557.9 944.9 1559.3 946.2 1560.6 947.5 1561.9 948.7 1563.3 950.0 1564.6 951.3 1565.9 952.6 1567.3 953.9 1568.6 955.1 1570.0 956.4 1571.3 957.7 1572.6 959.0 1574.0 960.3 1575.3 961.6 1576.6 962.8 1578.0 964.1 1579.3 965.4 1580.7 966.7 1582.0 968.0 1583.3 969.2 1584.7 975.7 1591.4 982.1 1598.1 988.5 1604.8 994.9 1611.6 1001.3 1618.3 1007.7 1625.0 1014.1 1631.7 1020.5 1638.4 1026.9 1645.0 1033.3 1651.7 1039.8 1658.4 1046.2 1665.0 1052.6 1671.6 1059.0 1678.2 1065.4 1684.8 1071.8 1691.3 1078.2 1697.9 1084.6 1704.4 1091.0 1710.9 1097.4 1717.3 1103.9 1723.8 1110.3 1730.2 1116.7 1736.5 1123.1 1742.9 1129.5 1749.2 1135.9 1755.5 1142.3 1761.8 1148.7 1768.0 1155.1 1774.2 1161.5 1780.4 1168.0 1786.5 1174.4 1792.6 1180.8 1798.7 1187.2 1804.7 1193.6 1810.7 1200.0 1816.7 1206.4 1822.6 1212.8 1828.6 1219.2 1834.4 1225.6 1840.3 1232.1 1846.1 1238.5 1851.9 1244.9 1857.6 1251.3 1863.3 1257.7 1869.0 1264.1 1874.7 1270.5 1880.3 1276.9 1885.9 1283.3 1891.4 1289.7 1896.9 1296.2 1902.4 1302.6 1907.9 1309.0 1913.3 1315.4 1918.7 1321.8 1924.0 1328.2 1929.3 1334.6 1934.6 1341.0 1939.9 1347.4 1945.1 1353.8 1950.3 1360.3 1955.5 1366.7 1960.6 1373.1 1965.7 1379.5 1970.7 1385.9 1975.8 1392.3 1980.8 1398.7 1985.8 1405.1 1990.7 1411.5 1995.6 1417.9 2000.5 1424.4 2005.3 1430.8 2010.2 1437.2 2015.0 1443.6 2019.7 1450.0 2024.4 1456.4 2029.1 1462.8 2033.8 1469.2 2038.5 1475.6 2043.1 1482.0 2047.7 1488.5 2052.2 1494.9 2056.8 1501.3 2061.3 1507.7 2065.7 1514.1 2070.2 1520.5 2074.6 1526.9 2079.0 1533.3 2083.3 1539.7 2087.7 1546.1 2092.0 1552.6 2096.3 1559.0 2100.5 1565.4 2104.8 1571.8 2109.0 1578.2 2113.2 1584.6 2117.3 1591.0 2121.4 1597.4 2125.5 1603.8 2129.6 1610.2 2133.7 1616.7 2137.7 1623.1 2141.7 1629.5 2145.7 1635.9 2149.6 1642.3 2153.6 1648.7 2157.5 1655.1 2161.3 1661.5 2165.2 1667.9 2169.0 1674.3 2172.8 1680.8 2176.6 1687.2 2180.4 1693.6 2184.1 1700.0 2187.9 1706.4 2191.6 1712.8 2195.2 1719.2 2198.9 1725.6 2202.5 1732.0 2206.1 1738.4 2209.7 1744.9 2213.3 1751.3 2216.8 1757.7 2220.3 1764.1 2223.9 1770.5 2227.3 1776.9 2230.8 1783.3 2234.2 1789.7 2237.6 1796.1 2241.0 1802.5 2244.3 1809.0 2247.7 1815.4 2251.0 1821.8 2254.3 1828.2 2257.5 1834.6 2260.8 1841.0 2264.0 1847.4 2267.3 1853.8 2270.5 1860.2 2273.6 1866.6 2276.8 1873.1 2279.9 1879.5 2283.0 1885.9 2286.1 1892.3 2289.2 1898.7 2292.2 1905.1 2295.3 1911.5 2298.3 1917.9 2301.3 1924.3 2304.3 1930.7 2307.2 1937.2 2310.2 1942.3 2312.5" stroke="#0072bd"/>
<path d="M168.0 2111.5L488.5 2111.5 489.8 2102.9 491.1 2090.8 492.3 2079.0 493.6 2067.3 494.9 2055.7 496.2 2044.3 497.5 2033.1 498.8 2022.0 500.0 2011.1 501.3 2000.3 502.6 1989.7 503.9 1979.2 505.2 1968.8 506.4 1958.6 507.7 1948.5 509.0 1938.6 510.3 1928.8 511.6 1919.2 512.9 1909.6 514.1 1900.3 515.4 1891.0 516.7 1881.9 518.0 1872.9 519.3 1864.0 520.5 1855.2 521.8 1846.6 523.1 1838.1 524.4 1829.7 525.7 1821.5 527.0 1813.3 528.2 1805.3 529.5 1797.4 530.8 1789.6 532.1 1781.9 533.4 1774.3 534.7 1766.9 535.9 1759.5 537.2 1752.3 538.5 1745.1 539.8 1738.1 541.1 1731.2 542.3 1724.3 543.6 1717.6 544.9 1711.0 546.2 1704.4 547.5 1698.0 548.8 1691.7 550.0 1685.4 551.3 1679.3 552.6 1673.2 553.9 1667.3 555.2 1661.4 556.4 1655.6 557.7 1649.9 559.0 1644.3 560.3 1638.8 561.6 1633.4 562.9 1628.1 564.1 1622.8 565.4 1617.6 566.7 1612.5 568.0 1607.5 569.3 1602.6 570.5 1597.7 571.8 1593.0 573.1 1588.3 574.4 1583.6 575.7 1579.1 577.0 1574.6 578.2 1570.2 579.5 1565.9 580.8 1561.7 582.1 1557.5 583.4 1553.4 584.6 1549.3 585.9 1545.4 587.2 1541.5 588.5 1537.6 589.8 1533.9 591.1 1530.2 592.3 1526.5 593.6 1523.0 594.9 1519.4 596.2 1516.0 597.5 1512.6 598.8 1509.3 600.0 1506.0 601.3 1502.8 602.6 1499.7 603.9 1496.6 605.2 1493.6 606.4 1490.6 607.7 1487.7 609.0 1484.8 610.3 1482.0 611.6 1479.2 612.9 1476.5 614.1 1473.9 615.4 1471.3 616.7 1468.8 618.0 1466.3 619.3 1463.8 620.5 1461.4 621.8 1459.1 623.1 1456.8 624.4 1454.6 625.7 1452.4 627.0 1450.2 628.2 1448.1 629.5 1446.1 630.8 1444.1 632.1 1442.1 633.4 1440.2 634.6 1438.3 635.9 1436.5 637.2 1434.7 638.5 1432.9 639.8 1431.2 641.1 1429.5 642.3 1427.9 643.6 1426.3 644.9 1424.8 646.2 1423.3 647.5 1421.8 648.7 1420.4 650.0 1419.0 651.3 1417.6 652.6 1416.3 653.9 1415.0 655.2 1413.8 656.4 1412.6 657.7 1411.4 659.0 1410.3 660.3 1409.2 661.6 1408.1 662.9 1407.0 664.1 1406.0 665.4 1405.1 666.7 1404.1 668.0 1403.2 669.3 1402.3 670.5 1401.5 671.8 1400.7 673.1 1399.9 674.4 1399.1 675.7 1398.4 677.0 1397.7 678.2 1397.1 679.5 1396.4 680.8 1395.8 682.1 1395.2 683.4 1394.7 684.6 1394.1 685.9 1393.6 687.2 1393.2 688.5 1392.7 689.8 1392.3 691.1 1391.9 692.3 1391.5 693.6 1391.2 694.9 1390.9 696.2 1390.6 697.5 1390.3 698.7 1390.0 700.0 1389.8 701.3 1389.6 702.6 1389.4 703.9 1389.3 705.2 1389.1 706.4 1389.0 707.7 1388.9 709.0 1388.8 710.3 1388.8 711.6 1388.8 712.8 1388.8 714.1 1388.8 715.4 1388.8 716.7 1388.9 718.0 1388.9 719.3 1389.0 720.5 1389.1 721.8 1389.3 723.1 1389.4 724.4 1389.6 725.7 1389.8 727.0 1390.0 728.2 1390.2 729.5 1390.4 730.8 1390.7 732.1 1390.9 733.4 1391.2 734.6 1391.5 735.9 1391.8 737.2 1392.2 738.5 1392.5 739.8 1392.9 741.1 1393.3 742.3 1393.7 743.6 1394.1 744.9 1394.5 746.2 1395.0 747.5 1395.4 748.7 1395.9 750.0 1396.4 751.3 1396.9 752.6 1397.4 753.9 1397.9 755.2 1398.5 756.4 1399.0 757.7 1399.6 759.0 1400.2 760.3 1400.8 761.6 1401.4 762.8 1402.0 764.1 1402.6 765.4 1403.3 766.7 1403.9 768.0 1404.6 769.3 1405.3 770.5 1406.0 771.8 1406.7 773.1 1407.4 774.4 1408.1 775.7 1408.8 776.9 1409.6 778.2 1410.3 779.5 1411.1 780.8 1411.9 782.1 1412.7 783.4 1413.5 784.6 1414.3 785.9 1415.1 787.2 1415.9 788.5 1416.7 789.8 1417.6 791.1 1418.4 792.3 1419.3 793.6 1420.2 794.9 1421.0 796.2 1421.9 797.5 1422.8 798.7 1423.7 800.0 1424.6 801.3 1425.6 802.6 1426.5 803.9 1427.4 805.2 1428.4 806.4 1429.3 807.7 1430.3 809.0 1431.2 810.3 1432.2 811.6 1433.2 812.8 1434.2 814.1 1435.2 815.4 1436.2 816.7 1437.2 818.0 1438.2 819.3 1439.2 820.5 1440.3 821.8 1441.3 823.1 1442.3 824.4 1443.4 825.7 1444.4 826.9 1445.5 828.2 1446.6 829.5 1447.6 830.8 1448.7 832.1 1449.8 833.4 1450.9 834.6 1452.0 835.9 1453.1 837.2 1454.2 838.5 1455.3 839.8 1456.4 841.0 1457.5 842.3 1458.7 843.6 1459.8 844.9 1460.9 846.2 1462.1 847.5 1463.2 848.7 1464.4 850.0 1465.5 851.3 1466.7 852.6 1467.9 853.9 1469.0 855.2 1470.2 856.4 1471.4 857.7 1472.6 859.0 1473.7 860.3 1474.9 861.6 1476.1 862.8 1477.3 864.1 1478.5 865.4 1479.7 866.7 1480.9 868.0 1482.1 869.3 1483.4 870.5 1484.6 871.8 1485.8 873.1 1487.0 874.4 1488.2 875.7 1489.5 876.9 1490.7 878.2 1491.9 879.5 1493.2 880.8 1494.4 882.1 1495.7 883.4 1496.9 884.6 1498.2 885.9 1499.4 887.2 1500.7 888.5 1501.9 889.8 1503.2 891.0 1504.5 892.3 1505.7 893.6 1507.0 894.9 1508.3 896.2 1509.6 897.5 1510.8 898.7 1512.1 900.0 1513.4 901.3 1514.7 902.6 1516.0 903.9 1517.2 905.1 1518.5 906.4 1519.8 907.7 1521.1 909.0 1522.4 910.3 1523.7 911.6 1525.0 912.8 1526.3 914.1 1527.6 915.4 1528.9 916.7 1530.2 918.0 1531.5 919.3 1532.8 920.5 1534.1 921.8 1535.5 923.1 1536.8 924.4 1538.1 925.7 1539.4 926.9 1540.7 928.2 1542.0 929.5 1543.4 930.8 1544.7 932.1 1546.0 933.4 1547.3 934.6 1548.6 935.9 1550.0 937.2 1551.3 938.5 1552.6 939.8 1554.0 941.0 1555.3 942.3 1556.6 943.6 1557.9 944.9 1559.3 946.2 1560.6 947.5 1561.9 948.7 1563.3 950.0 1564.6 951.3 1565.9 952.6 1567.3 953.9 1568.6 955.1 1570.0 956.4 1571.3 957.7 1572.6 959.0 1574.0 960.3 1575.3 961.6 1576.6 962.8 1578.0 964.1 1579.3 965.4 1580.7 966.7 1582.0 968.0 1583.3 969.2 1584.7 975.7 1591.4 982.1 1598.1 988.5 1604.8 994.9 1611.6 1001.3 1618.3 1007.7 1625.0 1014.1 1631.7 1020.5 1638.4 1026.9 1645.0 1033.3 1651.7 1039.8 1658.4 1046.2 1665.0 1052.6 1671.6 1059.0 1678.2 1065.4 1684.8 1071.8 1691.3 1078.2 1697.9 1084.6 1704.4 1091.0 1710.9 1097.4 1717.3 1103.9 1723.8 1110.3 1730.2 1116.7 1736.5 1123.1 1742.9 1129.5 1749.2 1135.9 1755.5 1142.3 1761.8 1148.7 1768.0 1155.1 1774.2 1161.5 1780.4 1168.0 1786.5 1174.4 1792.6 1180.8 1798.7 1187.2 1804.7 1193.6 1810.7 1200.0 1816.7 1206.4 1822.6 1212.8 1828.6 1219.2 1834.4 1225.6 1840.3 1232.1 1846.1 1238.5 1851.9 1244.9 1857.6 1251.3 1863.3 1257.7 1869.0 1264.1 1874.7 1270.5 1880.3 1276.9 1885.9 1283.3 1891.4 1289.7 1896.9 1296.2 1902.4 1302.6 1907.9 1309.0 1913.3 1315.4 1918.7 1321.8 1924.0 1328.2 1929.3 1334.6 1934.6 1341.0 1939.9 1347.4 1945.1 1353.8 1950.3 1360.3 1955.5 1366.7 1960.6 1373.1 1965.7 1379.5 1970.7 1385.9 1975.8 1392.3 1980.8 1398.7 1985.8 1405.1 1990.7 1411.5 1995.6 1417.9 2000.5 1424.4 2005.3 1430.8 2010.2 1437.2 2015.0 1443.6 2019.7 1450.0 2024.4 1456.4 2029.1 1462.8 2033.8 1469.2 2038.5 1475.6 2043.1 1482.0 2047.7 1488.5 2052.2 1494.9 2056.8 1501.3 2061.3 1507.7 2065.7 1514.1 2070.2 1520.5 2074.6 1526.9 2079.0 1533.3 2083.3 1539.7 2087.7 1546.1 2092.0 1552.6 2096.3 1559.0 2100.5 1565.4 2104.8 1571.8 2109.0 1578.2 2113.2 1584.6 2117.3 1591.0 2121.4 1597.4 2125.5 1603.8 2129.6 1610.2 2133.7 1616.7 2137.7 1623.1 2141.7 1629.5 2145.7 1635.9 2149.6 1642.3 2153.6 1648.7 2157.5 1655.1 2161.3 1661.5 2165.2 1667.9 2169.0 1674.3 2172.8 1680.8 2176.6 1687.2 2180.4 1693.6 2184.1 1700.0 2187.9 1706.4 2191.6 1712.8 2195.2 1719.2 2198.9 1725.6 2202.5 1732.0 2206.1 1738.4 2209.7 1744.9 2213.3 1751.3 2216.8 1757.7 2220.3 1764.1 2223.9 1770.5 2227.3 1776.9 2230.8 1783.3 2234.2 1789.7 2237.6 1796.1 2241.0 1802.5 2244.3 1809.0 2247.7 1815.4 2251.0 1821.8 2254.3 1828.2 2257.5 1834.6 2260.8 1841.0 2264.0 1847.4 2267.3 1853.8 2270.5 1860.2 2273.6 1866.6 2276.8 1873.1 2279.9 1879.5 2283.0 1885.9 2286.1 1892.3 2289.2 1898.7 2292.2 1905.1 2295.3 1911.5 2298.3 1917.9 2301.3 1924.3 2304.3 1930.7 2307.2 1937.2 2310.2 1942.3 2312.5" stroke="#d95319" stroke-dasharray="21.7 19.64"/>
</g>
<path d="M167.5 1294.5H2090.5V2312.5H167.5ZM488.5 2312.5v-20.2M488.5 1294.5v20.2M809.0 2312.5v-20.2M809.0 1294.5v20.2M1129.5 2312.5v-20.2M1129.5 1294.5v20.2M1450.0 2312.5v-20.2M1450.0 1294.5v20.2M1770.5 2312.5v-20.2M1770.5 1294.5v20.2M167.5 2245.5h20.2M2090.5 2245.5h-20.2M167.5 2109.7h20.2M2090.5 2109.7h-20.2M167.5 1973.8h20.2M2090.5 1973.8h-20.2M167.5 1837.9h20.2M2090.5 1837.9h-20.2M167.5 1702.1h20.2M2090.5 1702.1h-20.2M167.5 1566.2h20.2M2090.5 1566.2h-20.2M167.5 1430.4h20.2M2090.5 1430.4h-20.2" stroke="#262626" stroke-width="1.1" fill="none"/>
<g font-size="41.7" fill="#262626">
<text x="167.4" y="2368.9" text-anchor="middle">1.9</text>
<text x="487.9" y="2368.9" text-anchor="middle">2</text>
<text x="808.4" y="2368.9" text-anchor="middle">2.1</text>
<text x="1128.9" y="2368.9" text-anchor="middle">2.2</text>
<text x="1449.4" y="2368.9" text-anchor="middle">2.3</text>
<text x="1769.9" y="2368.9" text-anchor="middle">2.4</text>
<text x="2090.4" y="2368.9" text-anchor="middle">2.5</text>
<text x="153.2" y="2260.8" text-anchor="end">0.8</text>
<text x="153.2" y="2125.0" text-anchor="end">1</text>
<text x="153.2" y="1989.1" text-anchor="end">1.2</text>
<text x="153.2" y="1853.2" text-anchor="end">1.4</text>
<text x="153.2" y="1717.4" text-anchor="end">1.6</text>
<text x="153.2" y="1581.5" text-anchor="end">1.8</text>
<text x="153.2" y="1445.7" text-anchor="end">2</text>
<text x="153.2" y="1309.8" text-anchor="end">2.2</text>
</g>
<text x="1127.0" y="2438.1" font-size="55" fill="#262626" text-anchor="middle">time (s)</text>
<text transform="translate(74.8 1806.5) rotate(-90)" font-size="55.6" fill="#262626" text-anchor="middle">velocity (m/s)</text>
<text x="1770.6" y="2134.7" font-size="61" fill="#000">(b)</text>
<rect x="1903.2" y="1315.7" width="166.5" height="145.9" fill="#fff" stroke="#262626" stroke-width="1.1"/>
<path d="M1910 1354.0H1989.1" stroke="#0072bd" stroke-width="6.3"/>
<path d="M1910 1423.0H1989.1" stroke="#d95319" stroke-width="6.3" stroke-dasharray="21.7 19.64"/>
<text x="1994.8" y="1375.0" font-size="53.5" fill="#000">(1)</text>
<text x="1994.8" y="1444.7" font-size="53.5" fill="#000">(2)</text>
</g>
<g>
<path d="M488.5 2553.5V3571.5M809.0 2553.5V3571.5M1129.5 2553.5V3571.5M1450.0 2553.5V3571.5M1770.5 2553.5V3571.5M167.5 3504.5H2090.5M167.5 3368.7H2090.5M167.5 3232.8H2090.5M167.5 3096.9H2090.5M167.5 2961.1H2090.5M167.5 2825.2H2090.5M167.5 2689.4H2090.5" stroke="#dfdfdf" stroke-width="1.2" fill="none"/>
<clipPath id="c2"><rect x="166.5" y="2552.5" width="1925.0" height="1023.0"/></clipPath>
<g clip-path="url(#c2)" fill="none" stroke-width="6.3" stroke-linejoin="miter">
<path d="M168.0 3370.5L488.5 3370.5 488.7 3369.0 488.9 3367.5 489.0 3366.0 489.2 3364.5 489.4 3363.0 489.5 3361.6 489.7 3360.1 489.9 3358.6 490.0 3357.1 490.2 3355.6 490.4 3354.1 490.5 3352.6 490.7 3351.1 490.8 3349.6 491.0 3348.1 491.2 3346.6 491.3 3345.1 491.5 3343.7 491.6 3342.2 491.7 3340.7 491.9 3339.2 492.0 3337.7 492.2 3336.2 492.3 3334.7 492.5 3333.2 492.6 3331.7 492.7 3330.2 492.9 3328.7 493.0 3327.2 493.1 3325.7 493.3 3324.2 493.4 3322.7 493.5 3321.3 493.7 3319.8 493.8 3318.3 493.9 3316.8 494.0 3315.3 494.2 3313.8 494.3 3312.3 494.4 3310.8 494.5 3309.3 494.6 3307.8 494.8 3306.3 494.9 3304.8 495.0 3303.3 495.1 3301.8 495.2 3300.3 495.3 3298.8 495.5 3297.3 495.6 3295.8 495.7 3294.3 495.8 3292.8 495.9 3291.3 496.0 3289.9 496.1 3288.4 496.2 3286.9 496.3 3285.4 496.4 3283.9 496.6 3282.4 496.7 3280.9 496.8 3279.4 496.9 3277.9 497.0 3276.4 497.1 3274.9 497.2 3273.4 497.3 3271.9 497.4 3270.4 497.5 3268.9 497.6 3267.4 497.7 3265.9 497.8 3264.4 497.9 3262.9 498.0 3261.4 498.1 3259.9 498.2 3258.4 498.3 3256.9 498.4 3255.4 498.5 3253.9 498.6 3252.4 498.7 3250.9 498.8 3249.4 498.9 3247.9 499.0 3246.5 499.1 3245.0 499.2 3243.5 499.3 3242.0 499.4 3240.5 499.5 3239.0 499.6 3237.5 499.7 3236.0 499.8 3234.5 499.9 3233.0 500.0 3231.5 500.1 3230.0 500.2 3228.5 500.3 3227.0 500.4 3225.5 500.5 3224.0 500.6 3222.5 500.7 3221.0 500.8 3219.5 500.9 3218.0 501.0 3216.5 501.1 3215.0 501.2 3213.5 501.3 3212.0 501.4 3210.5 501.5 3209.0 501.6 3207.5 501.7 3206.0 501.8 3204.5 501.9 3203.0 502.0 3201.6 502.1 3200.1 502.2 3198.6 502.3 3197.1 502.4 3195.6 502.5 3194.1 502.6 3192.6 502.8 3191.1 502.9 3189.6 503.0 3188.1 503.1 3186.6 503.2 3185.1 503.3 3183.6 503.4 3182.1 503.6 3180.6 503.7 3179.1 503.8 3177.6 503.9 3176.1 504.0 3174.6 504.2 3173.1 504.3 3171.6 504.4 3170.1 504.5 3168.7 504.7 3167.2 504.8 3165.7 504.9 3164.2 505.0 3162.7 505.2 3161.2 505.3 3159.7 505.4 3158.2 505.6 3156.7 505.7 3155.2 505.9 3153.7 506.0 3152.2 506.1 3150.7 506.3 3149.2 506.4 3147.7 506.6 3146.2 506.7 3144.8 506.9 3143.3 507.0 3141.8 507.1 3140.3 507.3 3138.8 507.5 3137.3 507.6 3135.8 507.8 3134.3 507.9 3132.8 508.1 3131.3 508.2 3129.8 508.4 3128.3 508.6 3126.8 508.7 3125.4 508.9 3123.9 509.1 3122.4 509.3 3120.9 509.4 3119.4 509.6 3117.9 509.8 3116.4 510.0 3114.9 510.1 3113.4 510.3 3112.0 510.5 3110.5 510.7 3109.0 510.9 3107.5 511.1 3106.0 511.3 3104.5 511.5 3103.0 511.7 3101.5 511.9 3100.0 512.1 3098.6 512.3 3097.1 512.5 3095.6 512.7 3094.1 512.9 3092.6 513.1 3091.1 513.3 3089.7 513.5 3088.2 513.8 3086.7 514.0 3085.2 514.2 3083.7 514.4 3082.2 514.7 3080.8 514.9 3079.3 515.1 3077.8 515.4 3076.3 515.6 3074.8 515.8 3073.3 516.1 3071.9 516.3 3070.4 516.6 3068.9 516.8 3067.4 517.1 3065.9 517.3 3064.5 517.6 3063.0 517.9 3061.5 518.1 3060.0 518.4 3058.6 518.7 3057.1 518.9 3055.6 519.2 3054.1 519.5 3052.7 519.8 3051.2 520.1 3049.7 520.4 3048.3 520.7 3046.8 521.1 3045.3 521.4 3043.9 521.8 3042.4 522.2 3041.0 522.6 3039.5 523.0 3038.1 523.5 3036.7 523.9 3035.2 524.4 3033.8 525.0 3032.4 525.5 3031.0 526.1 3029.6 526.7 3028.2 527.3 3026.9 527.9 3025.5 528.6 3024.2 529.3 3022.9 530.1 3021.6 530.8 3020.3 531.6 3019.0 532.5 3017.8 533.3 3016.6 534.2 3015.3 535.1 3014.1 536.0 3013.0 537.0 3011.8 537.9 3010.6 538.9 3009.4 539.8 3008.3 540.7 3007.1 541.7 3005.9 542.6 3004.8 543.6 3003.6 544.5 3002.4 545.4 3001.2 546.3 3000.0 547.1 2998.8 548.0 2997.5 548.8 2996.3 549.6 2995.0 550.4 2993.7 551.1 2992.4 551.8 2991.1 552.4 2989.7 553.1 2988.4 553.7 2987.0 554.3 2985.6 554.8 2984.2 555.4 2982.8 555.9 2981.4 556.4 2980.0 556.9 2978.6 557.3 2977.2 557.8 2975.7 558.2 2974.3 558.6 2972.8 559.0 2971.4 559.4 2970.0 559.8 2968.5 560.2 2967.0 560.5 2965.6 560.9 2964.1 561.2 2962.7 561.6 2961.2 562.0 2959.8 562.3 2958.3 562.7 2956.9 563.0 2955.4 563.4 2953.9 563.7 2952.5 564.1 2951.0 564.4 2949.6 564.8 2948.1 565.1 2946.6 565.4 2945.2 565.8 2943.7 566.1 2942.3 566.5 2940.8 566.8 2939.3 567.1 2937.9 567.5 2936.4 567.8 2935.0 568.2 2933.5 568.5 2932.0 568.8 2930.6 569.1 2929.1 569.5 2927.6 569.8 2926.2 570.1 2924.7 570.5 2923.2 570.8 2921.8 571.1 2920.3 571.4 2918.9 571.7 2917.4 572.1 2915.9 572.4 2914.5 572.7 2913.0 573.0 2911.5 573.3 2910.1 573.6 2908.6 573.9 2907.1 574.3 2905.7 574.6 2904.2 574.9 2902.7 575.2 2901.2 575.5 2899.8 575.8 2898.3 576.1 2896.8 576.4 2895.4 576.7 2893.9 577.0 2892.4 577.3 2891.0 577.6 2889.5 577.9 2888.0 578.2 2886.5 578.5 2885.1 578.8 2883.6 579.0 2882.1 579.3 2880.7 579.6 2879.2 579.9 2877.7 580.2 2876.2 580.5 2874.8 580.8 2873.3 581.0 2871.8 581.3 2870.4 581.6 2868.9 581.9 2867.4 582.2 2865.9 582.4 2864.5 582.7 2863.0 583.0 2861.5 583.3 2860.0 583.6 2858.6 583.8 2857.1 584.1 2855.6 584.4 2854.1 584.7 2852.7 584.9 2851.2 585.2 2849.7 585.5 2848.2 585.7 2846.8 586.0 2845.3 586.3 2843.8 586.6 2842.3 586.8 2840.9 587.1 2839.4 587.4 2837.9 587.6 2836.4 587.9 2835.0 588.2 2833.5 588.4 2832.0 588.7 2830.5 589.0 2829.1 589.2 2827.6 589.5 2826.1 589.8 2824.6 590.0 2823.1 590.3 2821.7 590.6 2820.2 590.8 2818.7 591.1 2817.2 591.4 2815.8 591.6 2814.3 591.9 2812.8 592.2 2811.3 592.4 2809.9 592.7 2808.4 593.0 2806.9 593.2 2805.4 593.5 2804.0 593.8 2802.5 594.0 2801.0 594.3 2799.5 594.6 2798.1 594.8 2796.6 595.1 2795.1 595.4 2793.6 595.7 2792.2 595.9 2790.7 596.2 2789.2 596.5 2787.7 596.7 2786.3 597.0 2784.8 597.3 2783.3 597.5 2781.8 597.8 2780.4 598.1 2778.9 598.4 2777.4 598.6 2775.9 598.9 2774.5 599.2 2773.0 599.5 2771.5 599.8 2770.0 600.0 2768.6 600.3 2767.1 600.6 2765.6 600.9 2764.1 601.1 2762.7 601.4 2761.2 601.7 2759.7 602.0 2758.2 602.3 2756.8 602.6 2755.3 602.9 2753.8 603.1 2752.4 603.4 2750.9 603.7 2749.4 604.0 2747.9 604.3 2746.5 604.6 2745.0 604.9 2743.5 605.2 2742.1 605.5 2740.6 605.8 2739.1 606.1 2737.6 606.4 2736.2 606.7 2734.7 607.1 2733.3 607.4 2731.8 607.7 2730.3 608.1 2728.9 608.5 2727.4 608.8 2726.0 609.2 2724.5 609.6 2723.1 610.0 2721.6 610.5 2720.2 610.9 2718.8 611.4 2717.3 611.9 2715.9 612.4 2714.5 612.9 2713.1 613.4 2711.7 614.0 2710.3 614.6 2708.9 615.2 2707.6 615.9 2706.2 616.5 2704.9 617.2 2703.5 617.9 2702.2 618.7 2700.9 619.5 2699.6 620.3 2698.4 621.1 2697.1 622.0 2695.9 622.9 2694.7 623.8 2693.5 624.8 2692.4 625.8 2691.3 626.8 2690.2 627.9 2689.2 629.1 2688.2 630.3 2687.3 631.5 2686.5 632.8 2685.7 634.2 2685.0 635.5 2684.4 636.9 2683.9 638.4 2683.5 639.8 2683.1 641.3 2682.8 642.8 2682.5 644.3 2682.3 645.7 2682.1 647.2 2681.9 648.7 2681.7 650.2 2681.5 651.7 2681.3 653.2 2681.1 654.7 2680.9 656.1 2680.7 657.6 2680.5 659.1 2680.2 660.6 2680.0 662.1 2679.7 663.5 2679.4 665.0 2679.1 666.5 2678.8 667.9 2678.4 669.4 2678.0 670.8 2677.6 672.2 2677.1 673.6 2676.6 675.0 2676.0 676.4 2675.4 677.8 2674.8 679.1 2674.1 680.4 2673.4 681.7 2672.6 682.9 2671.8 684.2 2670.9 685.3 2670.0 686.5 2669.0 687.6 2668.1 688.8 2667.1 689.9 2666.1 691.0 2665.0 692.0 2664.0 693.1 2662.9 694.2 2661.9 695.2 2660.8 696.3 2659.8 697.4 2658.7 698.5 2657.7 699.5 2656.6 700.7 2655.6 701.8 2654.7 702.9 2653.7 704.1 2652.8 705.3 2651.9 706.6 2651.0 707.8 2650.2 709.1 2649.5 710.4 2648.8 711.8 2648.1 713.2 2647.5 714.6 2647.0 716.0 2646.6 717.5 2646.2 718.9 2645.8 720.4 2645.5 721.9 2645.3 723.4 2645.2 724.9 2645.1 726.4 2645.0 727.9 2645.0 729.4 2645.1 730.9 2645.3 732.4 2645.5 733.8 2645.8 735.3 2646.1 736.7 2646.5 738.2 2646.9 739.6 2647.5 741.0 2648.0 742.3 2648.6 743.7 2649.3 745.0 2650.0 746.3 2650.7 747.6 2651.4 748.9 2652.2 750.2 2653.0 751.4 2653.8 752.7 2654.7 753.9 2655.5 755.1 2656.4 756.3 2657.3 757.6 2658.2 758.8 2659.1 760.0 2660.0 761.2 2660.8 762.4 2661.7 763.6 2662.6 764.8 2663.5 766.0 2664.4 767.3 2665.2 768.5 2666.1 769.7 2666.9 771.0 2667.8 772.2 2668.6 773.5 2669.5 774.7 2670.3 776.0 2671.1 777.2 2671.9 778.5 2672.7 779.7 2673.6 781.0 2674.4 782.3 2675.2 783.5 2676.0 784.8 2676.8 786.1 2677.6 787.3 2678.4 788.6 2679.2 789.9 2680.0 791.2 2680.7 792.4 2681.5 793.7 2682.3 795.0 2683.1 796.2 2683.8 797.5 2684.6 798.7 2685.4 800.0 2686.2 801.3 2687.0 802.6 2687.8 803.9 2688.6 805.2 2689.4 806.4 2690.3 807.7 2691.1 809.0 2692.0 810.3 2692.9 811.6 2693.7 812.8 2694.6 814.1 2695.6 815.4 2696.5 816.7 2697.4 818.0 2698.4 819.3 2699.4 820.5 2700.4 821.8 2701.4 823.1 2702.4 824.4 2703.4 825.7 2704.4 826.9 2705.5 828.2 2706.5 829.5 2707.5 830.8 2708.6 832.1 2709.6 833.4 2710.6 834.6 2711.7 836.2 2713.0 837.8 2714.2 839.4 2715.5 841.1 2716.8 842.7 2718.1 844.3 2719.4 845.9 2720.7 847.5 2722.0 849.1 2723.3 850.7 2724.6 852.3 2725.9 853.9 2727.2 855.5 2728.6 857.1 2729.9 858.7 2731.2 860.3 2732.6 861.9 2734.0 863.5 2735.3 865.1 2736.7 866.7 2738.1 868.3 2739.5 869.9 2740.9 871.5 2742.3 873.1 2743.7 874.7 2745.2 876.3 2746.6 877.9 2748.1 879.5 2749.6 881.1 2751.1 882.7 2752.6 884.3 2754.1 885.9 2755.6 887.5 2757.1 889.1 2758.7 890.7 2760.2 892.3 2761.7 893.9 2763.3 895.5 2764.8 897.1 2766.4 898.7 2768.0 900.3 2769.5 901.9 2771.1 903.5 2772.7 905.2 2774.3 906.8 2775.8 908.4 2777.4 910.0 2779.0 911.6 2780.6 913.2 2782.3 914.8 2783.9 916.4 2785.5 918.0 2787.1 919.6 2788.8 921.2 2790.4 922.8 2792.1 924.4 2793.7 926.0 2795.4 927.6 2797.0 929.2 2798.7 930.8 2800.4 932.4 2802.0 934.0 2803.7 935.6 2805.4 937.2 2807.0 938.8 2808.7 940.4 2810.4 942.0 2812.1 943.6 2813.8 945.2 2815.5 946.8 2817.1 948.4 2818.8 950.0 2820.5 951.6 2822.2 953.2 2823.9 954.8 2825.6 956.4 2827.3 958.0 2829.0 959.6 2830.6 961.2 2832.3 962.8 2834.0 964.4 2835.7 966.0 2837.4 967.6 2839.1 969.2 2840.8 969.3 2840.8 975.7 2847.6 982.1 2854.4 988.5 2861.2 994.9 2868.0 1001.3 2874.8 1007.7 2881.7 1014.1 2888.5 1020.5 2895.3 1026.9 2902.1 1033.3 2908.9 1039.8 2915.7 1046.2 2922.5 1052.6 2929.2 1059.0 2935.9 1065.4 2942.6 1071.8 2949.3 1078.2 2956.0 1084.6 2962.6 1091.0 2969.3 1097.4 2975.9 1103.9 2982.4 1110.3 2988.9 1116.7 2995.4 1123.1 3001.8 1129.5 3008.2 1135.9 3014.5 1142.3 3020.8 1148.7 3027.1 1155.1 3033.3 1161.5 3039.5 1168.0 3045.7 1174.4 3051.8 1180.8 3057.9 1187.2 3064.0 1193.6 3070.0 1200.0 3076.0 1206.4 3082.0 1212.8 3087.9 1219.2 3093.8 1225.6 3099.7 1232.1 3105.5 1238.5 3111.3 1244.9 3117.1 1251.3 3122.8 1257.7 3128.5 1264.1 3134.2 1270.5 3139.8 1276.9 3145.4 1283.3 3150.9 1289.7 3156.5 1296.2 3162.0 1302.6 3167.4 1309.0 3172.9 1315.4 3178.3 1321.8 3183.6 1328.2 3189.0 1334.6 3194.3 1341.0 3199.5 1347.4 3204.8 1353.8 3210.0 1360.3 3215.1 1366.7 3220.3 1373.1 3225.4 1379.5 3230.5 1385.9 3235.5 1392.3 3240.5 1398.7 3245.5 1405.1 3250.4 1411.5 3255.4 1417.9 3260.3 1424.4 3265.1 1430.8 3269.9 1437.2 3274.7 1443.6 3279.5 1450.0 3284.3 1456.4 3289.0 1462.8 3293.7 1469.2 3298.3 1475.6 3302.9 1482.0 3307.5 1488.5 3312.1 1494.9 3316.6 1501.3 3321.2 1507.7 3325.6 1514.1 3330.1 1520.5 3334.5 1526.9 3338.9 1533.3 3343.3 1539.7 3347.7 1546.1 3352.0 1552.6 3356.3 1559.0 3360.5 1565.4 3364.8 1571.8 3369.0 1578.2 3373.2 1584.6 3377.3 1591.0 3381.5 1597.4 3385.6 1603.8 3389.7 1610.2 3393.7 1616.7 3397.8 1623.1 3401.8 1629.5 3405.8 1635.9 3409.8 1642.3 3413.7 1648.7 3417.6 1655.1 3421.5 1661.5 3425.4 1667.9 3429.2 1674.3 3433.0 1680.8 3436.8 1687.2 3440.6 1693.6 3444.4 1700.0 3448.1 1706.4 3451.8 1712.8 3455.5 1719.2 3459.2 1725.6 3462.8 1732.0 3466.4 1738.4 3470.0 1744.9 3473.6 1751.3 3477.1 1757.7 3480.7 1764.1 3484.2 1770.5 3487.7 1776.9 3491.2 1783.3 3494.6 1789.7 3498.1 1796.1 3501.5 1802.5 3504.9 1809.0 3508.2 1815.4 3511.6 1821.8 3514.9 1828.2 3518.2 1834.6 3521.5 1841.0 3524.8 1847.4 3528.1 1853.8 3531.3 1860.2 3534.5 1866.6 3537.7 1873.1 3540.9 1879.5 3544.1 1885.9 3547.2 1892.3 3550.3 1898.7 3553.4 1905.1 3556.5 1911.5 3559.6 1917.9 3562.7 1924.3 3565.7 1930.7 3568.8 1936.6 3571.5" stroke="#0072bd"/>
<path d="M168.0 3370.5L488.5 3370.5 488.8 3369.0 489.2 3367.6 489.5 3366.1 489.8 3364.6 490.1 3363.2 490.4 3361.7 490.8 3360.2 491.1 3358.8 491.4 3357.3 491.7 3355.8 492.0 3354.4 492.3 3352.9 492.6 3351.4 492.9 3350.0 493.2 3348.5 493.5 3347.0 493.8 3345.6 494.1 3344.1 494.4 3342.6 494.7 3341.1 495.0 3339.7 495.3 3338.2 495.6 3336.7 495.9 3335.3 496.1 3333.8 496.4 3332.3 496.7 3330.8 497.0 3329.4 497.3 3327.9 497.5 3326.4 497.8 3324.9 498.1 3323.5 498.4 3322.0 498.6 3320.5 498.9 3319.0 499.2 3317.6 499.4 3316.1 499.7 3314.6 500.0 3313.1 500.2 3311.7 500.5 3310.2 500.8 3308.7 501.0 3307.2 501.3 3305.7 501.5 3304.3 501.8 3302.8 502.0 3301.3 502.3 3299.8 502.5 3298.4 502.8 3296.9 503.0 3295.4 503.3 3293.9 503.5 3292.4 503.7 3291.0 504.0 3289.5 504.2 3288.0 504.5 3286.5 504.7 3285.0 504.9 3283.5 505.2 3282.1 505.4 3280.6 505.6 3279.1 505.9 3277.6 506.1 3276.1 506.3 3274.7 506.6 3273.2 506.8 3271.7 507.0 3270.2 507.2 3268.7 507.5 3267.2 507.7 3265.8 507.9 3264.3 508.1 3262.8 508.3 3261.3 508.5 3259.8 508.8 3258.3 509.0 3256.9 509.2 3255.4 509.4 3253.9 509.6 3252.4 509.8 3250.9 510.0 3249.4 510.2 3247.9 510.5 3246.5 510.7 3245.0 510.9 3243.5 511.1 3242.0 511.3 3240.5 511.5 3239.0 511.7 3237.5 511.9 3236.1 512.1 3234.6 512.3 3233.1 512.5 3231.6 512.7 3230.1 512.9 3228.6 513.1 3227.1 513.3 3225.6 513.5 3224.2 513.7 3222.7 513.9 3221.2 514.0 3219.7 514.2 3218.2 514.4 3216.7 514.6 3215.2 514.8 3213.7 515.0 3212.3 515.2 3210.8 515.4 3209.3 515.6 3207.8 515.7 3206.3 515.9 3204.8 516.1 3203.3 516.3 3201.8 516.5 3200.4 516.7 3198.9 516.9 3197.4 517.0 3195.9 517.2 3194.4 517.4 3192.9 517.6 3191.4 517.8 3189.9 517.9 3188.4 518.1 3187.0 518.3 3185.5 518.5 3184.0 518.7 3182.5 518.8 3181.0 519.0 3179.5 519.2 3178.0 519.4 3176.5 519.5 3175.0 519.7 3173.5 519.9 3172.1 520.1 3170.6 520.2 3169.1 520.4 3167.6 520.6 3166.1 520.8 3164.6 520.9 3163.1 521.1 3161.6 521.3 3160.1 521.4 3158.6 521.6 3157.2 521.8 3155.7 522.0 3154.2 522.1 3152.7 522.3 3151.2 522.5 3149.7 522.6 3148.2 522.8 3146.7 523.0 3145.2 523.2 3143.7 523.3 3142.3 523.5 3140.8 523.7 3139.3 523.8 3137.8 524.0 3136.3 524.2 3134.8 524.3 3133.3 524.5 3131.8 524.7 3130.3 524.8 3128.8 525.0 3127.3 525.2 3125.9 525.4 3124.4 525.5 3122.9 525.7 3121.4 525.9 3119.9 526.0 3118.4 526.2 3116.9 526.4 3115.4 526.5 3113.9 526.7 3112.4 526.9 3111.0 527.1 3109.5 527.2 3108.0 527.4 3106.5 527.6 3105.0 527.7 3103.5 527.9 3102.0 528.1 3100.5 528.2 3099.0 528.4 3097.5 528.6 3096.1 528.8 3094.6 528.9 3093.1 529.1 3091.6 529.3 3090.1 529.5 3088.6 529.6 3087.1 529.8 3085.6 530.0 3084.1 530.1 3082.6 530.3 3081.2 530.5 3079.7 530.7 3078.2 530.8 3076.7 531.0 3075.2 531.2 3073.7 531.4 3072.2 531.5 3070.7 531.7 3069.2 531.9 3067.7 532.1 3066.3 532.3 3064.8 532.4 3063.3 532.6 3061.8 532.8 3060.3 533.0 3058.8 533.1 3057.3 533.3 3055.8 533.5 3054.3 533.7 3052.8 533.9 3051.4 534.0 3049.9 534.2 3048.4 534.4 3046.9 534.6 3045.4 534.8 3043.9 534.9 3042.4 535.1 3040.9 535.3 3039.4 535.5 3038.0 535.7 3036.5 535.8 3035.0 536.0 3033.5 536.2 3032.0 536.4 3030.5 536.6 3029.0 536.8 3027.5 536.9 3026.0 537.1 3024.6 537.3 3023.1 537.5 3021.6 537.7 3020.1 537.9 3018.6 538.0 3017.1 538.2 3015.6 538.4 3014.1 538.6 3012.7 538.8 3011.2 539.0 3009.7 539.2 3008.2 539.3 3006.7 539.5 3005.2 539.7 3003.7 539.9 3002.2 540.1 3000.7 540.3 2999.3 540.5 2997.8 540.7 2996.3 540.8 2994.8 541.0 2993.3 541.2 2991.8 541.4 2990.3 541.6 2988.8 541.8 2987.4 542.0 2985.9 542.2 2984.4 542.4 2982.9 542.6 2981.4 542.7 2979.9 542.9 2978.4 543.1 2976.9 543.3 2975.4 543.5 2974.0 543.7 2972.5 543.9 2971.0 544.1 2969.5 544.3 2968.0 544.5 2966.5 544.7 2965.0 544.9 2963.5 545.1 2962.1 545.2 2960.6 545.4 2959.1 545.6 2957.6 545.8 2956.1 546.0 2954.6 546.2 2953.1 546.4 2951.6 546.6 2950.2 546.8 2948.7 547.0 2947.2 547.2 2945.7 547.4 2944.2 547.6 2942.7 547.8 2941.2 548.0 2939.8 548.2 2938.3 548.4 2936.8 548.6 2935.3 548.8 2933.8 549.0 2932.3 549.2 2930.8 549.4 2929.4 549.6 2927.9 549.8 2926.4 550.0 2924.9 550.2 2923.4 550.5 2921.9 550.7 2920.4 550.9 2919.0 551.1 2917.5 551.3 2916.0 551.5 2914.5 551.8 2913.0 552.0 2911.5 552.2 2910.1 552.4 2908.6 552.7 2907.1 552.9 2905.6 553.1 2904.1 553.4 2902.6 553.6 2901.2 553.8 2899.7 554.1 2898.2 554.3 2896.7 554.6 2895.2 554.8 2893.8 555.1 2892.3 555.3 2890.8 555.6 2889.3 555.8 2887.8 556.1 2886.4 556.4 2884.9 556.6 2883.4 556.9 2881.9 557.2 2880.5 557.5 2879.0 557.7 2877.5 558.0 2876.0 558.3 2874.6 558.6 2873.1 558.9 2871.6 559.2 2870.2 559.5 2868.7 559.8 2867.2 560.1 2865.8 560.4 2864.3 560.7 2862.8 561.0 2861.4 561.4 2859.9 561.7 2858.4 562.0 2857.0 562.4 2855.5 562.7 2854.0 563.0 2852.6 563.4 2851.1 563.7 2849.7 564.1 2848.2 564.5 2846.8 564.8 2845.3 565.2 2843.8 565.6 2842.4 566.0 2840.9 566.3 2839.5 566.7 2838.0 567.1 2836.6 567.5 2835.1 567.9 2833.7 568.3 2832.3 568.7 2830.8 569.2 2829.4 569.6 2827.9 570.0 2826.5 570.4 2825.1 570.9 2823.6 571.3 2822.2 571.8 2820.8 572.2 2819.3 572.7 2817.9 573.2 2816.5 573.6 2815.1 574.1 2813.6 574.6 2812.2 575.1 2810.8 575.6 2809.4 576.1 2808.0 576.6 2806.6 577.1 2805.1 577.6 2803.7 578.1 2802.3 578.7 2800.9 579.2 2799.5 579.8 2798.1 580.3 2796.8 580.9 2795.4 581.5 2794.0 582.1 2792.6 582.7 2791.2 583.3 2789.9 584.0 2788.5 584.6 2787.2 585.3 2785.8 585.9 2784.5 586.6 2783.1 587.3 2781.8 588.0 2780.5 588.8 2779.2 589.5 2777.9 590.3 2776.6 591.1 2775.3 591.9 2774.0 592.7 2772.8 593.5 2771.5 594.4 2770.3 595.2 2769.1 596.1 2767.9 597.0 2766.7 597.9 2765.5 598.9 2764.3 599.8 2763.1 600.7 2761.9 601.6 2760.8 602.6 2759.6 603.5 2758.4 604.5 2757.3 605.4 2756.1 606.4 2755.0 607.3 2753.8 608.3 2752.6 609.2 2751.5 610.2 2750.3 611.1 2749.1 612.0 2748.0 613.0 2746.8 613.9 2745.6 614.8 2744.4 615.7 2743.2 616.5 2741.9 617.4 2740.7 618.2 2739.5 619.1 2738.2 619.9 2737.0 620.7 2735.7 621.4 2734.4 622.2 2733.1 623.0 2731.8 623.7 2730.5 624.4 2729.2 625.1 2727.9 625.9 2726.6 626.5 2725.2 627.2 2723.9 627.9 2722.6 628.6 2721.2 629.2 2719.9 629.9 2718.5 630.5 2717.2 631.2 2715.8 631.8 2714.5 632.5 2713.1 633.1 2711.7 633.7 2710.4 634.3 2709.0 635.0 2707.6 635.6 2706.3 636.2 2704.9 636.8 2703.5 637.4 2702.2 638.1 2700.8 638.7 2699.4 639.3 2698.1 639.9 2696.7 640.6 2695.4 641.2 2694.0 641.9 2692.7 642.5 2691.3 643.2 2690.0 643.8 2688.6 644.5 2687.3 645.2 2685.9 645.9 2684.6 646.6 2683.3 647.3 2682.0 648.0 2680.7 648.8 2679.3 649.5 2678.0 650.3 2676.8 651.1 2675.5 651.8 2674.2 652.6 2672.9 653.5 2671.7 654.3 2670.4 655.2 2669.2 656.0 2668.0 656.9 2666.8 657.8 2665.6 658.7 2664.4 659.7 2663.2 660.6 2662.1 661.6 2660.9 662.6 2659.8 663.7 2658.7 664.7 2657.6 665.8 2656.6 666.9 2655.6 668.0 2654.6 669.1 2653.6 670.3 2652.6 671.5 2651.7 672.7 2650.8 673.9 2650.0 675.2 2649.2 676.5 2648.4 677.8 2647.7 679.1 2647.1 680.5 2646.5 681.9 2645.9 683.3 2645.4 684.8 2645.0 686.2 2644.6 687.7 2644.3 689.2 2644.1 690.7 2643.9 692.2 2643.8 693.7 2643.8 695.2 2643.8 696.7 2643.9 698.2 2644.0 699.6 2644.2 701.1 2644.4 702.6 2644.6 704.1 2644.9 705.6 2645.1 707.0 2645.4 708.5 2645.7 710.0 2646.0 711.5 2646.3 712.9 2646.6 714.4 2646.9 715.9 2647.2 717.3 2647.5 718.8 2647.8 720.3 2648.1 721.7 2648.4 723.2 2648.7 724.7 2649.1 726.1 2649.4 727.6 2649.7 729.1 2650.1 730.5 2650.4 732.0 2650.8 733.4 2651.1 734.9 2651.5 736.3 2651.8 737.8 2652.2 739.2 2652.6 740.7 2653.0 742.1 2653.4 743.6 2653.8 745.0 2654.2 746.5 2654.6 747.9 2655.0 749.4 2655.4 750.8 2655.9 752.2 2656.3 753.6 2656.8 755.1 2657.3 756.5 2657.7 757.9 2658.2 759.3 2658.7 760.7 2659.2 762.1 2659.8 763.5 2660.3 764.9 2660.8 766.3 2661.4 767.7 2662.0 769.1 2662.6 770.5 2663.2 771.8 2663.8 773.2 2664.4 774.6 2665.0 775.9 2665.7 777.3 2666.3 778.6 2667.0 779.9 2667.7 781.3 2668.4 782.6 2669.1 783.9 2669.9 785.2 2670.6 786.5 2671.4 787.8 2672.2 789.0 2672.9 790.3 2673.7 791.6 2674.6 792.8 2675.4 794.1 2676.2 795.3 2677.0 796.2 2677.6 797.5 2678.6 798.7 2679.5 800.0 2680.5 801.3 2681.6 802.6 2682.7 803.9 2683.8 805.2 2685.0 806.4 2686.1 807.7 2687.4 809.0 2688.6 810.3 2689.8 811.6 2691.0 812.8 2692.3 814.1 2693.5 815.4 2694.8 816.7 2696.0 818.0 2697.2 819.3 2698.4 820.5 2699.6 821.8 2700.8 823.1 2701.9 824.4 2703.1 825.7 2704.2 826.9 2705.3 828.2 2706.4 829.5 2707.5 830.8 2708.6 832.1 2709.6 833.4 2710.6 834.6 2711.7 836.2 2713.0 837.8 2714.2 839.4 2715.5 841.1 2716.8 842.7 2718.1 844.3 2719.4 845.9 2720.7 847.5 2722.0 849.1 2723.3 850.7 2724.6 852.3 2725.9 853.9 2727.2 855.5 2728.6 857.1 2729.9 858.7 2731.2 860.3 2732.6 861.9 2734.0 863.5 2735.3 865.1 2736.7 866.7 2738.1 868.3 2739.5 869.9 2740.9 871.5 2742.3 873.1 2743.7 874.7 2745.2 876.3 2746.6 877.9 2748.1 879.5 2749.6 881.1 2751.1 882.7 2752.6 884.3 2754.1 885.9 2755.6 887.5 2757.1 889.1 2758.7 890.7 2760.2 892.3 2761.7 893.9 2763.3 895.5 2764.8 897.1 2766.4 898.7 2768.0 900.3 2769.5 901.9 2771.1 903.5 2772.7 905.2 2774.3 906.8 2775.8 908.4 2777.4 910.0 2779.0 911.6 2780.6 913.2 2782.3 914.8 2783.9 916.4 2785.5 918.0 2787.1 919.6 2788.8 921.2 2790.4 922.8 2792.1 924.4 2793.7 926.0 2795.4 927.6 2797.0 929.2 2798.7 930.8 2800.4 932.4 2802.0 934.0 2803.7 935.6 2805.4 937.2 2807.0 938.8 2808.7 940.4 2810.4 942.0 2812.1 943.6 2813.8 945.2 2815.5 946.8 2817.1 948.4 2818.8 950.0 2820.5 951.6 2822.2 953.2 2823.9 954.8 2825.6 956.4 2827.3 958.0 2829.0 959.6 2830.6 961.2 2832.3 962.8 2834.0 964.4 2835.7 966.0 2837.4 967.6 2839.1 969.2 2840.8 969.3 2840.8 975.7 2847.6 982.1 2854.4 988.5 2861.2 994.9 2868.0 1001.3 2874.8 1007.7 2881.7 1014.1 2888.5 1020.5 2895.3 1026.9 2902.1 1033.3 2908.9 1039.8 2915.7 1046.2 2922.5 1052.6 2929.2 1059.0 2935.9 1065.4 2942.6 1071.8 2949.3 1078.2 2956.0 1084.6 2962.6 1091.0 2969.3 1097.4 2975.9 1103.9 2982.4 1110.3 2988.9 1116.7 2995.4 1123.1 3001.8 1129.5 3008.2 1135.9 3014.5 1142.3 3020.8 1148.7 3027.1 1155.1 3033.3 1161.5 3039.5 1168.0 3045.7 1174.4 3051.8 1180.8 3057.9 1187.2 3064.0 1193.6 3070.0 1200.0 3076.0 1206.4 3082.0 1212.8 3087.9 1219.2 3093.8 1225.6 3099.7 1232.1 3105.5 1238.5 3111.3 1244.9 3117.1 1251.3 3122.8 1257.7 3128.5 1264.1 3134.2 1270.5 3139.8 1276.9 3145.4 1283.3 3150.9 1289.7 3156.5 1296.2 3162.0 1302.6 3167.4 1309.0 3172.9 1315.4 3178.3 1321.8 3183.6 1328.2 3189.0 1334.6 3194.3 1341.0 3199.5 1347.4 3204.8 1353.8 3210.0 1360.3 3215.1 1366.7 3220.3 1373.1 3225.4 1379.5 3230.5 1385.9 3235.5 1392.3 3240.5 1398.7 3245.5 1405.1 3250.4 1411.5 3255.4 1417.9 3260.3 1424.4 3265.1 1430.8 3269.9 1437.2 3274.7 1443.6 3279.5 1450.0 3284.3 1456.4 3289.0 1462.8 3293.7 1469.2 3298.3 1475.6 3302.9 1482.0 3307.5 1488.5 3312.1 1494.9 3316.6 1501.3 3321.2 1507.7 3325.6 1514.1 3330.1 1520.5 3334.5 1526.9 3338.9 1533.3 3343.3 1539.7 3347.7 1546.1 3352.0 1552.6 3356.3 1559.0 3360.5 1565.4 3364.8 1571.8 3369.0 1578.2 3373.2 1584.6 3377.3 1591.0 3381.5 1597.4 3385.6 1603.8 3389.7 1610.2 3393.7 1616.7 3397.8 1623.1 3401.8 1629.5 3405.8 1635.9 3409.8 1642.3 3413.7 1648.7 3417.6 1655.1 3421.5 1661.5 3425.4 1667.9 3429.2 1674.3 3433.0 1680.8 3436.8 1687.2 3440.6 1693.6 3444.4 1700.0 3448.1 1706.4 3451.8 1712.8 3455.5 1719.2 3459.2 1725.6 3462.8 1732.0 3466.4 1738.4 3470.0 1744.9 3473.6 1751.3 3477.1 1757.7 3480.7 1764.1 3484.2 1770.5 3487.7 1776.9 3491.2 1783.3 3494.6 1789.7 3498.1 1796.1 3501.5 1802.5 3504.9 1809.0 3508.2 1815.4 3511.6 1821.8 3514.9 1828.2 3518.2 1834.6 3521.5 1841.0 3524.8 1847.4 3528.1 1853.8 3531.3 1860.2 3534.5 1866.6 3537.7 1873.1 3540.9 1879.5 3544.1 1885.9 3547.2 1892.3 3550.3 1898.7 3553.4 1905.1 3556.5 1911.5 3559.6 1917.9 3562.7 1924.3 3565.7 1930.7 3568.8 1936.6 3571.5" stroke="#d95319" stroke-dasharray="21.7 19.64"/>
</g>
<path d="M167.5 2553.5H2090.5V3571.5H167.5ZM488.5 3571.5v-20.2M488.5 2553.5v20.2M809.0 3571.5v-20.2M809.0 2553.5v20.2M1129.5 3571.5v-20.2M1129.5 2553.5v20.2M1450.0 3571.5v-20.2M1450.0 2553.5v20.2M1770.5 3571.5v-20.2M1770.5 2553.5v20.2M167.5 3504.5h20.2M2090.5 3504.5h-20.2M167.5 3368.7h20.2M2090.5 3368.7h-20.2M167.5 3232.8h20.2M2090.5 3232.8h-20.2M167.5 3096.9h20.2M2090.5 3096.9h-20.2M167.5 2961.1h20.2M2090.5 2961.1h-20.2M167.5 2825.2h20.2M2090.5 2825.2h-20.2M167.5 2689.4h20.2M2090.5 2689.4h-20.2" stroke="#262626" stroke-width="1.1" fill="none"/>
<g font-size="41.7" fill="#262626">
<text x="167.4" y="3627.9" text-anchor="middle">1.9</text>
<text x="487.9" y="3627.9" text-anchor="middle">2</text>
<text x="808.4" y="3627.9" text-anchor="middle">2.1</text>
<text x="1128.9" y="3627.9" text-anchor="middle">2.2</text>
<text x="1449.4" y="3627.9" text-anchor="middle">2.3</text>
<text x="1769.9" y="3627.9" text-anchor="middle">2.4</text>
<text x="2090.4" y="3627.9" text-anchor="middle">2.5</text>
<text x="153.2" y="3519.8" text-anchor="end">0.8</text>
<text x="153.2" y="3384.0" text-anchor="end">1</text>
<text x="153.2" y="3248.1" text-anchor="end">1.2</text>
<text x="153.2" y="3112.2" text-anchor="end">1.4</text>
<text x="153.2" y="2976.4" text-anchor="end">1.6</text>
<text x="153.2" y="2840.5" text-anchor="end">1.8</text>
<text x="153.2" y="2704.7" text-anchor="end">2</text>
<text x="153.2" y="2568.8" text-anchor="end">2.2</text>
</g>
<text x="1127.0" y="3697.1" font-size="55" fill="#262626" text-anchor="middle">time (s)</text>
<text transform="translate(74.8 3065.5) rotate(-90)" font-size="55.6" fill="#262626" text-anchor="middle">velocity (m/s)</text>
<text x="1770.6" y="3393.7" font-size="61" fill="#000">(c)</text>
<rect x="1903.2" y="2574.7" width="166.5" height="145.9" fill="#fff" stroke="#262626" stroke-width="1.1"/>
<path d="M1910 2613.0H1989.1" stroke="#0072bd" stroke-width="6.3"/>
<path d="M1910 2682.0H1989.1" stroke="#d95319" stroke-width="6.3" stroke-dasharray="21.7 19.64"/>
<text x="1994.8" y="2634.0" font-size="53.5" fill="#000">(1)</text>
<text x="1994.8" y="2703.7" font-size="53.5" fill="#000">(2)</text>
</g>
</svg>
</body></html>
